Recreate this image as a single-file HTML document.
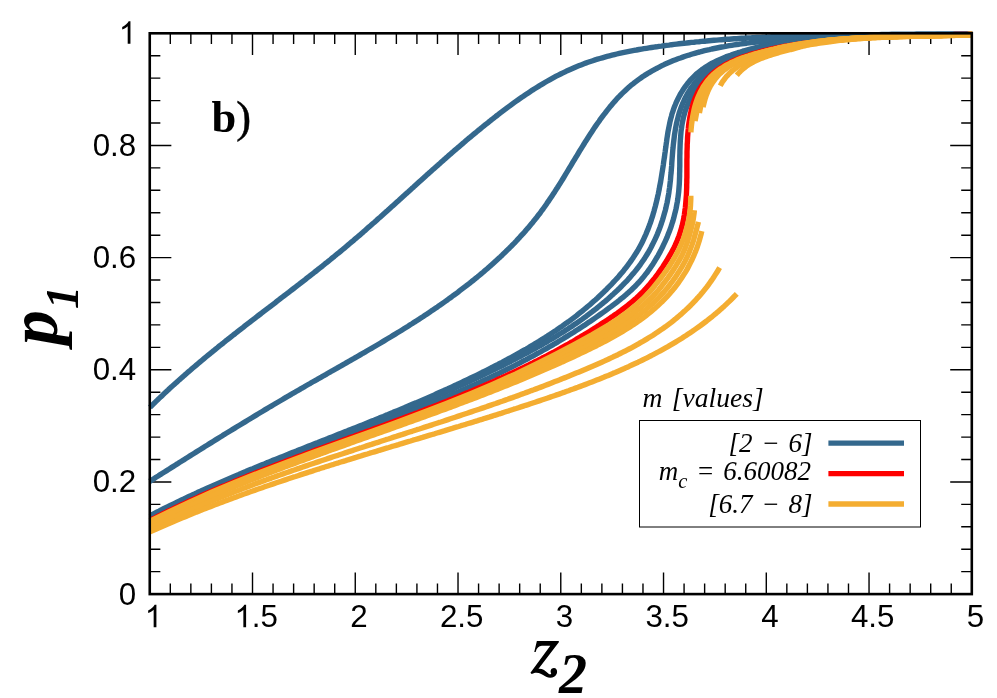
<!DOCTYPE html>
<html><head><meta charset="utf-8"><title>chart</title>
<style>
html,body{margin:0;padding:0;background:#fff;}
svg{display:block;will-change:transform;}
.tl text{font-family:"Liberation Sans",sans-serif;font-size:31.3px;fill:#000;}
.ser{font-family:"Liberation Serif",serif;fill:#000;}
</style></head><body>
<svg width="997" height="698" viewBox="0 0 997 698">
<rect width="997" height="698" fill="#fff"/>
<path d="M149.75,594.1v-21.6 M149.75,33.3v21.6 M170.30,594.1v-10.6 M170.30,33.3v10.6 M190.85,594.1v-10.6 M190.85,33.3v10.6 M211.40,594.1v-10.6 M211.40,33.3v10.6 M231.95,594.1v-10.6 M231.95,33.3v10.6 M252.51,594.1v-21.6 M252.51,33.3v21.6 M273.06,594.1v-10.6 M273.06,33.3v10.6 M293.61,594.1v-10.6 M293.61,33.3v10.6 M314.16,594.1v-10.6 M314.16,33.3v10.6 M334.71,594.1v-10.6 M334.71,33.3v10.6 M355.26,594.1v-21.6 M355.26,33.3v21.6 M375.81,594.1v-10.6 M375.81,33.3v10.6 M396.37,594.1v-10.6 M396.37,33.3v10.6 M416.92,594.1v-10.6 M416.92,33.3v10.6 M437.47,594.1v-10.6 M437.47,33.3v10.6 M458.02,594.1v-21.6 M458.02,33.3v21.6 M478.57,594.1v-10.6 M478.57,33.3v10.6 M499.12,594.1v-10.6 M499.12,33.3v10.6 M519.67,594.1v-10.6 M519.67,33.3v10.6 M540.22,594.1v-10.6 M540.22,33.3v10.6 M560.77,594.1v-21.6 M560.77,33.3v21.6 M581.33,594.1v-10.6 M581.33,33.3v10.6 M601.88,594.1v-10.6 M601.88,33.3v10.6 M622.43,594.1v-10.6 M622.43,33.3v10.6 M642.98,594.1v-10.6 M642.98,33.3v10.6 M663.53,594.1v-21.6 M663.53,33.3v21.6 M684.08,594.1v-10.6 M684.08,33.3v10.6 M704.63,594.1v-10.6 M704.63,33.3v10.6 M725.19,594.1v-10.6 M725.19,33.3v10.6 M745.74,594.1v-10.6 M745.74,33.3v10.6 M766.29,594.1v-21.6 M766.29,33.3v21.6 M786.84,594.1v-10.6 M786.84,33.3v10.6 M807.39,594.1v-10.6 M807.39,33.3v10.6 M827.94,594.1v-10.6 M827.94,33.3v10.6 M848.49,594.1v-10.6 M848.49,33.3v10.6 M869.04,594.1v-21.6 M869.04,33.3v21.6 M889.59,594.1v-10.6 M889.59,33.3v10.6 M910.15,594.1v-10.6 M910.15,33.3v10.6 M930.70,594.1v-10.6 M930.70,33.3v10.6 M951.25,594.1v-10.6 M951.25,33.3v10.6 M971.80,594.1v-21.6 M971.80,33.3v21.6 M149.75,594.10h21.6 M971.8,594.10h-21.6 M149.75,571.67h10.6 M971.8,571.67h-10.6 M149.75,549.24h10.6 M971.8,549.24h-10.6 M149.75,526.80h10.6 M971.8,526.80h-10.6 M149.75,504.37h10.6 M971.8,504.37h-10.6 M149.75,481.94h21.6 M971.8,481.94h-21.6 M149.75,459.51h10.6 M971.8,459.51h-10.6 M149.75,437.08h10.6 M971.8,437.08h-10.6 M149.75,414.64h10.6 M971.8,414.64h-10.6 M149.75,392.21h10.6 M971.8,392.21h-10.6 M149.75,369.78h21.6 M971.8,369.78h-21.6 M149.75,347.35h10.6 M971.8,347.35h-10.6 M149.75,324.92h10.6 M971.8,324.92h-10.6 M149.75,302.48h10.6 M971.8,302.48h-10.6 M149.75,280.05h10.6 M971.8,280.05h-10.6 M149.75,257.62h21.6 M971.8,257.62h-21.6 M149.75,235.19h10.6 M971.8,235.19h-10.6 M149.75,212.76h10.6 M971.8,212.76h-10.6 M149.75,190.32h10.6 M971.8,190.32h-10.6 M149.75,167.89h10.6 M971.8,167.89h-10.6 M149.75,145.46h21.6 M971.8,145.46h-21.6 M149.75,123.03h10.6 M971.8,123.03h-10.6 M149.75,100.60h10.6 M971.8,100.60h-10.6 M149.75,78.16h10.6 M971.8,78.16h-10.6 M149.75,55.73h10.6 M971.8,55.73h-10.6 M149.75,33.30h21.6 M971.8,33.30h-21.6" stroke="#000" stroke-width="1.4" fill="none"/>
<clipPath id="cp"><rect x="147.25" y="29" width="824.9499999999999" height="565.1"/></clipPath>
<g clip-path="url(#cp)" fill="none" stroke-width="5.4" stroke-linecap="butt" stroke-linejoin="round">
<path d="M149.9,407.4 L151.7,405.7 L153.5,403.9 L155.3,402.1 L157.1,400.4 L158.9,398.6 L160.7,396.9 L162.6,395.2 L164.4,393.4 L166.2,391.7 L168.1,390.0 L169.9,388.3 L171.8,386.6 L173.6,384.9 L175.5,383.2 L177.4,381.6 L179.2,379.9 L181.1,378.2 L183.0,376.6 L184.9,374.9 L186.8,373.3 L188.7,371.6 L190.6,370.0 L192.5,368.3 L194.4,366.7 L196.3,365.1 L198.2,363.5 L200.1,361.9 L202.1,360.2 L204.0,358.6 L205.9,357.0 L207.9,355.4 L209.8,353.9 L211.7,352.3 L213.7,350.7 L215.6,349.1 L217.6,347.5 L219.5,345.9 L221.5,344.4 L223.5,342.8 L225.4,341.2 L227.4,339.7 L229.4,338.1 L231.3,336.6 L233.3,335.0 L235.3,333.5 L237.3,331.9 L239.2,330.4 L241.2,328.8 L243.2,327.3 L245.2,325.7 L247.2,324.2 L249.2,322.7 L251.1,321.1 L253.1,319.6 L255.1,318.1 L257.1,316.5 L259.1,315.0 L261.1,313.5 L263.1,311.9 L265.1,310.4 L267.1,308.9 L269.1,307.4 L271.1,305.8 L273.1,304.3 L275.1,302.8 L277.1,301.2 L279.1,299.7 L281.0,298.2 L283.0,296.7 L285.0,295.1 L287.0,293.6 L289.0,292.1 L291.0,290.5 L293.0,289.0 L295.0,287.5 L297.0,285.9 L299.0,284.4 L300.9,282.9 L302.9,281.3 L304.9,279.8 L306.9,278.2 L308.9,276.7 L310.8,275.1 L312.8,273.6 L314.8,272.0 L316.8,270.5 L318.7,268.9 L320.7,267.4 L322.7,265.8 L324.6,264.2 L326.6,262.7 L328.5,261.1 L330.5,259.5 L332.4,257.9 L334.4,256.3 L336.3,254.7 L338.3,253.2 L340.2,251.6 L342.1,250.0 L344.1,248.4 L346.0,246.7 L347.9,245.1 L349.8,243.5 L351.7,241.9 L353.7,240.3 L355.6,238.6 L357.5,237.0 L359.4,235.4 L361.3,233.7 L363.2,232.1 L365.1,230.4 L366.9,228.8 L368.8,227.1 L370.7,225.5 L372.6,223.8 L374.5,222.2 L376.4,220.5 L378.2,218.8 L380.1,217.2 L382.0,215.5 L383.9,213.8 L385.7,212.1 L387.6,210.5 L389.5,208.8 L391.3,207.1 L393.2,205.4 L395.1,203.7 L396.9,202.1 L398.8,200.4 L400.6,198.7 L402.5,197.0 L404.4,195.3 L406.2,193.6 L408.1,192.0 L410.0,190.3 L411.8,188.6 L413.7,186.9 L415.5,185.2 L417.4,183.5 L419.3,181.8 L421.1,180.2 L423.0,178.5 L424.9,176.8 L426.7,175.1 L428.6,173.4 L430.5,171.8 L432.3,170.1 L434.2,168.4 L436.1,166.7 L438.0,165.1 L439.9,163.4 L441.7,161.7 L443.6,160.1 L445.5,158.4 L447.4,156.8 L449.3,155.1 L451.2,153.4 L453.1,151.8 L455.0,150.1 L456.9,148.5 L458.8,146.9 L460.7,145.2 L462.6,143.6 L464.5,142.0 L466.4,140.3 L468.3,138.7 L470.3,137.1 L472.2,135.5 L474.1,133.9 L476.1,132.3 L478.0,130.7 L480.0,129.1 L481.9,127.5 L483.9,125.9 L485.8,124.3 L487.8,122.8 L489.8,121.2 L491.7,119.6 L493.7,118.1 L495.7,116.5 L497.7,115.0 L499.7,113.4 L501.7,111.9 L503.7,110.4 L505.7,108.9 L507.7,107.4 L509.8,105.9 L511.8,104.4 L513.8,102.9 L515.9,101.4 L517.9,100.0 L520.0,98.5 L522.1,97.1 L524.1,95.7 L526.2,94.3 L528.3,92.9 L530.4,91.5 L532.5,90.1 L534.6,88.8 L536.7,87.5 L538.9,86.1 L541.0,84.8 L543.1,83.6 L545.3,82.3 L547.5,81.0 L549.6,79.8 L551.8,78.6 L554.0,77.4 L556.2,76.2 L558.4,75.1 L560.6,74.0 L562.9,72.9 L565.1,71.8 L567.3,70.7 L569.6,69.7 L571.9,68.7 L574.1,67.7 L576.4,66.7 L578.7,65.8 L581.0,64.9 L583.4,64.0 L585.7,63.1 L588.0,62.3 L590.4,61.5 L592.8,60.7 L595.1,59.9 L597.5,59.2 L599.9,58.5 L602.3,57.8 L604.7,57.1 L607.1,56.4 L609.5,55.8 L612.0,55.2 L614.4,54.6 L616.8,54.0 L619.3,53.4 L621.7,52.9 L624.2,52.4 L626.6,51.9 L629.1,51.4 L631.6,50.9 L634.1,50.4 L636.5,50.0 L639.0,49.5 L641.5,49.1 L644.0,48.7 L646.5,48.3 L649.0,47.9 L651.5,47.5 L654.0,47.1 L656.5,46.8 L659.0,46.4 L661.5,46.1 L664.0,45.7 L666.5,45.4 L669.0,45.1 L671.5,44.7 L674.0,44.4 L676.5,44.1 L679.0,43.8 L681.5,43.5 L684.0,43.2 L686.5,43.0 L689.0,42.7 L691.5,42.4 L694.0,42.2 L696.5,41.9 L699.0,41.7 L701.5,41.4 L704.0,41.2 L706.5,41.0 L709.0,40.7 L711.5,40.5 L714.0,40.3 L716.6,40.1 L719.1,39.9 L721.6,39.7 L724.1,39.5 L726.6,39.3 L729.1,39.2 L731.6,39.0 L734.1,38.8 L736.6,38.7 L739.1,38.5 L741.6,38.3 L744.1,38.2 L746.6,38.0 L749.1,37.9 L751.6,37.8 L754.2,37.6 L756.7,37.5 L759.2,37.4 L761.7,37.3 L764.2,37.1 L766.7,37.0 L769.2,36.9 L771.7,36.8 L774.2,36.7 L776.7,36.6 L779.2,36.5 L781.7,36.4 L784.3,36.4 L786.8,36.3 L789.3,36.2 L791.8,36.1 L794.3,36.0 L796.8,36.0 L799.3,35.9 L801.8,35.8 L804.3,35.8 L806.8,35.7 L809.3,35.7 L811.9,35.6 L814.4,35.6 L816.9,35.5 L819.4,35.5 L821.9,35.4 L824.4,35.4 L826.9,35.3 L829.4,35.3 L831.9,35.3 L834.4,35.2 L837.0,35.2 L839.5,35.2 L842.0,35.2 L844.5,35.1 L847.0,35.1 L849.5,35.1 L852.0,35.1 L854.5,35.0 L857.0,35.0 L859.5,35.0 L862.1,35.0 L864.6,35.0 L867.1,34.9 L869.6,34.9 L872.1,34.9 L874.6,34.9 L877.1,34.9 L879.6,34.9 L882.1,34.9 L884.6,34.9 L887.2,34.8 L889.7,34.8 L892.2,34.8 L894.7,34.8 L897.2,34.8 L899.7,34.8 L902.2,34.8 L904.7,34.8 L907.2,34.8 L909.7,34.7 L912.3,34.7 L914.8,34.7 L917.3,34.7 L919.8,34.7 L922.3,34.7 L924.8,34.6 L927.3,34.6 L929.8,34.6 L932.3,34.6 L934.8,34.6 L937.3,34.5 L939.9,34.5 L942.4,34.5 L944.9,34.5 L947.4,34.4 L949.9,34.4 L952.4,34.4 L954.9,34.3 L957.4,34.3 L959.9,34.3 L962.4,34.2 L964.9,34.2 L967.5,34.1 L970.0,34.1 L972.5,34.0 L975.0,34.0" stroke="#34688d"/>
<path d="M149.7,481.4 L151.8,480.1 L153.9,478.7 L156.0,477.3 L158.2,476.0 L160.3,474.6 L162.4,473.3 L164.5,472.0 L166.7,470.6 L168.8,469.3 L170.9,467.9 L173.0,466.6 L175.2,465.2 L177.3,463.9 L179.4,462.5 L181.5,461.2 L183.7,459.9 L185.8,458.5 L187.9,457.2 L190.0,455.9 L192.2,454.5 L194.3,453.2 L196.4,451.9 L198.6,450.5 L200.7,449.2 L202.8,447.9 L204.9,446.5 L207.1,445.2 L209.2,443.9 L211.3,442.6 L213.5,441.2 L215.6,439.9 L217.7,438.6 L219.9,437.3 L222.0,436.0 L224.1,434.6 L226.3,433.3 L228.4,432.0 L230.5,430.7 L232.7,429.4 L234.8,428.1 L236.9,426.8 L239.1,425.5 L241.2,424.2 L243.4,422.9 L245.5,421.6 L247.7,420.3 L249.8,419.0 L251.9,417.7 L254.1,416.4 L256.2,415.1 L258.4,413.8 L260.5,412.5 L262.7,411.2 L264.8,409.9 L267.0,408.6 L269.2,407.3 L271.3,406.1 L273.5,404.8 L275.6,403.5 L277.8,402.2 L279.9,401.0 L282.1,399.7 L284.3,398.4 L286.4,397.1 L288.6,395.9 L290.8,394.6 L292.9,393.3 L295.1,392.1 L297.3,390.8 L299.5,389.6 L301.6,388.3 L303.8,387.1 L306.0,385.8 L308.2,384.5 L310.4,383.3 L312.5,382.0 L314.7,380.8 L316.9,379.6 L319.1,378.3 L321.3,377.1 L323.5,375.8 L325.7,374.6 L327.9,373.3 L330.0,372.1 L332.2,370.8 L334.4,369.6 L336.6,368.4 L338.8,367.1 L341.0,365.9 L343.2,364.6 L345.4,363.4 L347.5,362.1 L349.7,360.9 L351.9,359.6 L354.1,358.4 L356.3,357.1 L358.5,355.9 L360.6,354.6 L362.8,353.3 L365.0,352.1 L367.2,350.8 L369.4,349.5 L371.5,348.3 L373.7,347.0 L375.9,345.7 L378.0,344.5 L380.2,343.2 L382.4,341.9 L384.5,340.6 L386.7,339.3 L388.8,338.0 L391.0,336.7 L393.1,335.4 L395.3,334.1 L397.4,332.8 L399.6,331.5 L401.7,330.2 L403.9,328.8 L406.0,327.5 L408.1,326.2 L410.2,324.8 L412.4,323.5 L414.5,322.1 L416.6,320.8 L418.7,319.4 L420.8,318.0 L422.9,316.7 L425.0,315.3 L427.1,313.9 L429.2,312.5 L431.2,311.1 L433.3,309.7 L435.4,308.3 L437.5,306.9 L439.5,305.4 L441.6,304.0 L443.6,302.6 L445.7,301.1 L447.7,299.7 L449.7,298.2 L451.8,296.7 L453.8,295.2 L455.8,293.8 L457.8,292.3 L459.8,290.7 L461.8,289.2 L463.8,287.7 L465.8,286.2 L467.8,284.6 L469.8,283.1 L471.7,281.5 L473.7,280.0 L475.6,278.4 L477.6,276.8 L479.5,275.2 L481.4,273.6 L483.4,272.0 L485.3,270.3 L487.2,268.7 L489.1,267.0 L491.0,265.4 L492.8,263.7 L494.7,262.0 L496.6,260.3 L498.4,258.6 L500.3,256.9 L502.1,255.2 L503.9,253.4 L505.7,251.7 L507.5,249.9 L509.3,248.2 L511.1,246.4 L512.8,244.6 L514.6,242.8 L516.3,241.0 L518.0,239.1 L519.7,237.3 L521.4,235.4 L523.1,233.6 L524.8,231.7 L526.4,229.8 L528.1,227.9 L529.7,226.0 L531.3,224.1 L532.9,222.2 L534.4,220.2 L536.0,218.3 L537.5,216.3 L539.1,214.3 L540.6,212.3 L542.0,210.3 L543.5,208.3 L545.0,206.2 L546.4,204.2 L547.8,202.1 L549.2,200.1 L550.6,198.0 L552.0,195.9 L553.4,193.8 L554.8,191.7 L556.1,189.6 L557.5,187.5 L558.8,185.4 L560.1,183.3 L561.5,181.1 L562.8,179.0 L564.1,176.8 L565.4,174.7 L566.7,172.5 L568.0,170.4 L569.3,168.2 L570.6,166.1 L571.9,163.9 L573.2,161.7 L574.5,159.6 L575.8,157.4 L577.1,155.3 L578.4,153.1 L579.7,150.9 L581.0,148.8 L582.4,146.6 L583.7,144.5 L585.0,142.3 L586.4,140.2 L587.8,138.1 L589.1,135.9 L590.5,133.8 L591.9,131.7 L593.3,129.6 L594.7,127.4 L596.1,125.4 L597.6,123.3 L599.1,121.2 L600.5,119.1 L602.0,117.1 L603.5,115.1 L605.1,113.1 L606.6,111.1 L608.2,109.1 L609.8,107.1 L611.4,105.2 L613.0,103.3 L614.7,101.4 L616.3,99.5 L618.0,97.7 L619.8,95.9 L621.5,94.1 L623.3,92.4 L625.1,90.7 L626.9,89.0 L628.8,87.3 L630.6,85.7 L632.6,84.2 L634.5,82.6 L636.5,81.1 L638.5,79.6 L640.5,78.2 L642.5,76.8 L644.6,75.4 L646.7,74.1 L648.8,72.8 L650.9,71.6 L653.1,70.3 L655.3,69.1 L657.5,68.0 L659.7,66.8 L661.9,65.7 L664.2,64.6 L666.5,63.6 L668.8,62.6 L671.1,61.6 L673.4,60.6 L675.7,59.7 L678.0,58.8 L680.4,58.0 L682.8,57.1 L685.1,56.3 L687.5,55.5 L689.9,54.8 L692.3,54.0 L694.7,53.3 L697.1,52.6 L699.6,52.0 L702.0,51.3 L704.4,50.7 L706.9,50.1 L709.4,49.6 L711.8,49.0 L714.3,48.5 L716.8,48.0 L719.2,47.5 L721.7,47.0 L724.2,46.6 L726.7,46.1 L729.2,45.7 L731.7,45.3 L734.2,44.9 L736.7,44.5 L739.2,44.2 L741.7,43.8 L744.3,43.5 L746.8,43.2 L749.3,42.8 L751.8,42.5 L754.3,42.3 L756.9,42.0 L759.4,41.7 L761.9,41.4 L764.4,41.2 L766.9,40.9 L769.4,40.7 L772.0,40.4 L774.5,40.2 L777.0,40.0 L779.5,39.8 L782.0,39.5 L784.5,39.3 L787.0,39.1 L789.5,38.9 L792.0,38.7 L794.5,38.5 L797.0,38.3 L799.5,38.2 L802.0,38.0 L804.5,37.8 L807.0,37.6 L809.5,37.5 L812.0,37.3 L814.5,37.2 L816.9,37.0 L819.4,36.9 L821.9,36.7 L824.4,36.6 L826.9,36.5 L829.4,36.3 L831.9,36.2 L834.4,36.1 L836.8,36.0 L839.3,35.9 L841.8,35.8 L844.3,35.7 L846.8,35.6 L849.3,35.5 L851.8,35.4 L854.2,35.3 L856.7,35.2 L859.2,35.1 L861.7,35.0 L864.2,35.0 L866.7,34.9 L869.2,34.8 L871.6,34.7 L874.1,34.7 L876.6,34.6 L879.1,34.6 L881.6,34.5 L884.1,34.5 L886.6,34.4 L889.1,34.4 L891.6,34.3 L894.1,34.3 L896.6,34.3 L899.1,34.2 L901.6,34.2 L904.1,34.2 L906.6,34.1 L909.1,34.1 L911.6,34.1 L914.1,34.1 L916.6,34.0 L919.1,34.0 L921.6,34.0 L924.2,34.0 L926.7,34.0 L929.2,34.0 L931.7,34.0 L934.2,34.0 L936.8,34.0 L939.3,34.0 L941.8,34.0 L944.4,34.0 L946.9,34.0 L949.4,34.0 L952.0,34.0 L954.5,34.0 L957.1,34.0 L959.6,34.0 L962.2,34.0 L964.7,34.0 L967.3,34.1 L969.9,34.1 L972.4,34.1 L975.0,34.1" stroke="#34688d"/>
<path d="M150.0,515.6 L152.3,514.5 L154.5,513.3 L156.7,512.2 L159.0,511.1 L161.2,509.9 L163.5,508.8 L165.7,507.7 L167.9,506.6 L170.2,505.5 L172.5,504.4 L174.7,503.3 L177.0,502.2 L179.2,501.1 L181.5,500.0 L183.8,499.0 L186.0,497.9 L188.3,496.8 L190.6,495.8 L192.8,494.7 L195.1,493.7 L197.4,492.6 L199.7,491.6 L202.0,490.5 L204.3,489.5 L206.5,488.5 L208.8,487.4 L211.1,486.4 L213.4,485.4 L215.7,484.4 L218.0,483.4 L220.3,482.4 L222.6,481.4 L224.9,480.4 L227.2,479.4 L229.5,478.4 L231.8,477.4 L234.1,476.4 L236.5,475.4 L238.8,474.5 L241.1,473.5 L243.4,472.5 L245.7,471.6 L248.0,470.6 L250.4,469.6 L252.7,468.7 L255.0,467.7 L257.3,466.7 L259.6,465.8 L262.0,464.8 L264.3,463.9 L266.6,462.9 L269.0,462.0 L271.3,461.1 L273.6,460.1 L275.9,459.2 L278.3,458.2 L280.6,457.3 L282.9,456.4 L285.3,455.4 L287.6,454.5 L289.9,453.6 L292.3,452.6 L294.6,451.7 L297.0,450.8 L299.3,449.8 L301.6,448.9 L304.0,448.0 L306.3,447.1 L308.7,446.1 L311.0,445.2 L313.3,444.3 L315.7,443.4 L318.0,442.5 L320.3,441.5 L322.7,440.6 L325.0,439.7 L327.4,438.8 L329.7,437.8 L332.0,436.9 L334.4,436.0 L336.7,435.1 L339.1,434.1 L341.4,433.2 L343.7,432.3 L346.1,431.4 L348.4,430.4 L350.8,429.5 L353.1,428.6 L355.4,427.7 L357.8,426.7 L360.1,425.8 L362.4,424.9 L364.8,423.9 L367.1,423.0 L369.4,422.1 L371.8,421.1 L374.1,420.2 L376.4,419.2 L378.8,418.3 L381.1,417.3 L383.4,416.4 L385.7,415.4 L388.1,414.5 L390.4,413.5 L392.7,412.6 L395.0,411.6 L397.3,410.7 L399.7,409.7 L402.0,408.7 L404.3,407.8 L406.6,406.8 L408.9,405.8 L411.2,404.8 L413.5,403.8 L415.9,402.9 L418.2,401.9 L420.5,400.9 L422.8,399.9 L425.1,398.9 L427.4,397.9 L429.7,396.9 L432.0,395.9 L434.3,394.9 L436.6,393.8 L438.8,392.8 L441.1,391.8 L443.4,390.8 L445.7,389.7 L448.0,388.7 L450.3,387.6 L452.5,386.6 L454.8,385.5 L457.1,384.5 L459.4,383.4 L461.6,382.4 L463.9,381.3 L466.2,380.2 L468.4,379.1 L470.7,378.0 L472.9,377.0 L475.2,375.9 L477.4,374.8 L479.7,373.7 L481.9,372.5 L484.2,371.4 L486.4,370.3 L488.7,369.2 L490.9,368.0 L493.1,366.9 L495.4,365.7 L497.6,364.6 L499.8,363.4 L502.0,362.3 L504.2,361.1 L506.5,359.9 L508.7,358.7 L510.9,357.5 L513.1,356.3 L515.3,355.1 L517.5,353.9 L519.7,352.7 L521.8,351.4 L524.0,350.2 L526.2,349.0 L528.4,347.7 L530.5,346.4 L532.7,345.2 L534.8,343.9 L537.0,342.6 L539.1,341.3 L541.2,339.9 L543.4,338.6 L545.5,337.3 L547.6,335.9 L549.7,334.6 L551.8,333.2 L553.9,331.8 L556.0,330.4 L558.0,329.0 L560.1,327.6 L562.2,326.2 L564.2,324.7 L566.2,323.2 L568.3,321.8 L570.3,320.3 L572.3,318.8 L574.3,317.3 L576.3,315.8 L578.3,314.2 L580.2,312.7 L582.2,311.1 L584.1,309.5 L586.1,307.9 L588.0,306.3 L589.9,304.7 L591.8,303.0 L593.7,301.3 L595.6,299.7 L597.5,298.0 L599.3,296.3 L601.2,294.5 L603.0,292.8 L604.8,291.0 L606.7,289.2 L608.4,287.4 L610.2,285.6 L612.0,283.8 L613.7,281.9 L615.5,280.0 L617.2,278.2 L618.9,276.3 L620.5,274.3 L622.1,272.4 L623.8,270.4 L625.3,268.4 L626.9,266.5 L628.4,264.4 L629.9,262.4 L631.3,260.4 L632.8,258.3 L634.1,256.2 L635.5,254.1 L636.8,252.0 L638.1,249.9 L639.3,247.7 L640.5,245.5 L641.6,243.4 L642.7,241.2 L643.8,238.9 L644.8,236.7 L645.8,234.5 L646.7,232.2 L647.7,229.9 L648.6,227.6 L649.4,225.3 L650.3,223.0 L651.1,220.7 L651.8,218.3 L652.6,216.0 L653.3,213.6 L654.0,211.2 L654.6,208.8 L655.3,206.4 L655.9,204.0 L656.5,201.6 L657.1,199.2 L657.6,196.7 L658.2,194.3 L658.7,191.8 L659.2,189.4 L659.6,186.9 L660.1,184.4 L660.6,181.9 L661.0,179.4 L661.4,176.9 L661.8,174.4 L662.2,171.9 L662.6,169.4 L663.0,166.9 L663.4,164.3 L663.7,161.8 L664.1,159.2 L664.5,156.7 L664.8,154.2 L665.2,151.6 L665.5,149.1 L665.9,146.5 L666.2,144.0 L666.6,141.4 L666.9,138.9 L667.3,136.3 L667.7,133.8 L668.1,131.2 L668.6,128.7 L669.1,126.2 L669.6,123.7 L670.1,121.3 L670.7,118.8 L671.4,116.4 L672.0,113.9 L672.8,111.6 L673.6,109.2 L674.4,106.8 L675.4,104.5 L676.3,102.2 L677.4,100.0 L678.5,97.8 L679.6,95.6 L680.8,93.4 L682.1,91.3 L683.4,89.3 L684.8,87.2 L686.2,85.3 L687.7,83.3 L689.3,81.4 L690.9,79.6 L692.6,77.8 L694.3,76.1 L696.0,74.4 L697.9,72.8 L699.8,71.3 L701.7,69.8 L703.7,68.4 L705.7,67.0 L707.8,65.7 L710.0,64.4 L712.1,63.2 L714.3,62.1 L716.6,61.0 L718.9,59.9 L721.2,58.9 L723.5,57.9 L725.8,56.9 L728.2,56.0 L730.6,55.2 L733.0,54.3 L735.4,53.5 L737.8,52.7 L740.3,52.0 L742.7,51.2 L745.1,50.5 L747.6,49.8 L750.0,49.2 L752.5,48.5 L754.9,47.9 L757.4,47.3 L759.8,46.7 L762.3,46.1 L764.7,45.6 L767.2,45.1 L769.7,44.6 L772.1,44.1 L774.6,43.6 L777.1,43.1 L779.5,42.7 L782.0,42.3 L784.5,41.9 L787.0,41.5 L789.5,41.2 L791.9,40.8 L794.4,40.5 L796.9,40.2 L799.4,39.8 L801.9,39.6 L804.4,39.3 L806.9,39.0 L809.4,38.8 L811.9,38.5 L814.4,38.3 L816.9,38.1 L819.4,37.9 L821.9,37.7 L824.4,37.5 L826.9,37.4 L829.4,37.2 L831.9,37.1 L834.4,36.9 L836.9,36.8 L839.4,36.7 L841.9,36.6 L844.5,36.5 L847.0,36.4 L849.5,36.3 L852.0,36.3 L854.5,36.2 L857.0,36.1 L859.6,36.1 L862.1,36.0 L864.6,36.0 L867.1,35.9 L869.6,35.9 L872.1,35.9 L874.7,35.8 L877.2,35.8 L879.7,35.8 L882.2,35.8 L884.7,35.8 L887.3,35.7 L889.8,35.7 L892.3,35.7 L894.8,35.7 L897.3,35.7 L899.8,35.7 L902.4,35.7 L904.9,35.7 L907.4,35.7 L909.9,35.7 L912.4,35.7 L914.9,35.6 L917.5,35.6 L920.0,35.6 L922.5,35.6 L925.0,35.6 L927.5,35.5 L930.0,35.5 L932.5,35.5 L935.0,35.4 L937.5,35.4 L940.0,35.3 L942.5,35.3 L945.0,35.2 L947.5,35.1 L950.0,35.1 L952.5,35.0 L955.0,34.9 L957.5,34.8 L960.0,34.7 L962.5,34.6 L965.0,34.5 L967.5,34.3 L970.0,34.2 L972.5,34.0 L974.9,33.9" stroke="#34688d"/>
<path d="M149.9,517.0 L152.2,515.9 L154.4,514.8 L156.7,513.7 L159.0,512.6 L161.2,511.6 L163.5,510.5 L165.8,509.4 L168.0,508.3 L170.3,507.3 L172.6,506.2 L174.9,505.2 L177.1,504.1 L179.4,503.1 L181.7,502.0 L184.0,501.0 L186.3,499.9 L188.6,498.9 L190.8,497.9 L193.1,496.8 L195.4,495.8 L197.7,494.8 L200.0,493.8 L202.3,492.8 L204.6,491.8 L206.9,490.8 L209.2,489.7 L211.5,488.7 L213.8,487.7 L216.1,486.8 L218.4,485.8 L220.7,484.8 L223.0,483.8 L225.3,482.8 L227.6,481.8 L229.9,480.8 L232.2,479.9 L234.5,478.9 L236.8,477.9 L239.1,476.9 L241.5,476.0 L243.8,475.0 L246.1,474.0 L248.4,473.1 L250.7,472.1 L253.0,471.2 L255.3,470.2 L257.7,469.3 L260.0,468.3 L262.3,467.4 L264.6,466.4 L266.9,465.5 L269.2,464.5 L271.6,463.6 L273.9,462.6 L276.2,461.7 L278.5,460.7 L280.9,459.8 L283.2,458.9 L285.5,457.9 L287.8,457.0 L290.1,456.0 L292.5,455.1 L294.8,454.2 L297.1,453.2 L299.4,452.3 L301.8,451.4 L304.1,450.4 L306.4,449.5 L308.7,448.6 L311.1,447.7 L313.4,446.7 L315.7,445.8 L318.0,444.9 L320.4,443.9 L322.7,443.0 L325.0,442.1 L327.3,441.1 L329.7,440.2 L332.0,439.3 L334.3,438.4 L336.6,437.4 L339.0,436.5 L341.3,435.6 L343.6,434.6 L345.9,433.7 L348.3,432.8 L350.6,431.8 L352.9,430.9 L355.2,430.0 L357.6,429.0 L359.9,428.1 L362.2,427.2 L364.5,426.2 L366.8,425.3 L369.2,424.3 L371.5,423.4 L373.8,422.5 L376.1,421.5 L378.4,420.6 L380.8,419.6 L383.1,418.7 L385.4,417.7 L387.7,416.8 L390.0,415.8 L392.3,414.8 L394.6,413.9 L397.0,412.9 L399.3,412.0 L401.6,411.0 L403.9,410.0 L406.2,409.1 L408.5,408.1 L410.8,407.1 L413.1,406.2 L415.4,405.2 L417.7,404.2 L420.0,403.2 L422.3,402.2 L424.6,401.2 L426.9,400.3 L429.2,399.3 L431.5,398.3 L433.8,397.3 L436.1,396.3 L438.4,395.3 L440.7,394.3 L443.0,393.2 L445.3,392.2 L447.6,391.2 L449.9,390.2 L452.2,389.2 L454.5,388.1 L456.7,387.1 L459.0,386.1 L461.3,385.0 L463.6,384.0 L465.9,383.0 L468.1,381.9 L470.4,380.9 L472.7,379.8 L475.0,378.7 L477.2,377.7 L479.5,376.6 L481.8,375.5 L484.0,374.5 L486.3,373.4 L488.6,372.3 L490.8,371.2 L493.1,370.1 L495.3,369.0 L497.6,367.9 L499.8,366.8 L502.1,365.7 L504.3,364.6 L506.6,363.4 L508.8,362.3 L511.1,361.2 L513.3,360.0 L515.6,358.9 L517.8,357.7 L520.0,356.6 L522.2,355.4 L524.5,354.2 L526.7,353.1 L528.9,351.9 L531.1,350.7 L533.3,349.5 L535.5,348.3 L537.7,347.0 L539.9,345.8 L542.1,344.6 L544.3,343.3 L546.4,342.1 L548.6,340.8 L550.8,339.5 L552.9,338.3 L555.1,337.0 L557.2,335.7 L559.3,334.3 L561.5,333.0 L563.6,331.7 L565.7,330.3 L567.8,329.0 L569.9,327.6 L572.0,326.2 L574.0,324.8 L576.1,323.4 L578.2,322.0 L580.2,320.6 L582.3,319.1 L584.3,317.6 L586.3,316.2 L588.3,314.7 L590.3,313.2 L592.3,311.7 L594.3,310.1 L596.3,308.6 L598.2,307.0 L600.2,305.4 L602.1,303.8 L604.1,302.2 L606.0,300.6 L607.9,299.0 L609.8,297.3 L611.6,295.6 L613.5,293.9 L615.3,292.2 L617.2,290.5 L619.0,288.8 L620.8,287.0 L622.6,285.2 L624.3,283.4 L626.1,281.6 L627.8,279.8 L629.5,277.9 L631.1,276.0 L632.7,274.1 L634.4,272.2 L635.9,270.3 L637.5,268.3 L639.0,266.3 L640.5,264.3 L641.9,262.3 L643.3,260.3 L644.7,258.2 L646.0,256.1 L647.3,254.0 L648.6,251.9 L649.8,249.7 L651.0,247.5 L652.1,245.3 L653.2,243.1 L654.3,240.9 L655.4,238.6 L656.4,236.4 L657.4,234.1 L658.3,231.8 L659.2,229.5 L660.1,227.1 L660.9,224.8 L661.7,222.4 L662.5,220.1 L663.2,217.7 L663.9,215.3 L664.6,212.8 L665.3,210.4 L665.9,208.0 L666.4,205.5 L667.0,203.1 L667.5,200.6 L667.9,198.1 L668.4,195.6 L668.8,193.1 L669.1,190.6 L669.5,188.1 L669.8,185.6 L670.1,183.0 L670.4,180.5 L670.6,178.0 L670.8,175.4 L671.1,172.9 L671.3,170.3 L671.5,167.8 L671.7,165.2 L671.8,162.7 L672.0,160.1 L672.2,157.6 L672.4,155.0 L672.6,152.5 L672.8,149.9 L673.1,147.4 L673.3,144.9 L673.6,142.4 L673.9,139.9 L674.2,137.4 L674.5,134.9 L674.9,132.4 L675.3,129.9 L675.7,127.5 L676.2,125.0 L676.7,122.6 L677.3,120.2 L677.9,117.8 L678.5,115.4 L679.2,113.0 L680.0,110.7 L680.8,108.3 L681.7,106.0 L682.6,103.7 L683.6,101.5 L684.6,99.2 L685.7,97.0 L686.9,94.8 L688.1,92.7 L689.4,90.6 L690.7,88.5 L692.1,86.5 L693.6,84.5 L695.1,82.6 L696.7,80.7 L698.3,78.9 L699.9,77.1 L701.7,75.4 L703.5,73.7 L705.3,72.1 L707.2,70.5 L709.2,69.0 L711.2,67.6 L713.2,66.2 L715.3,64.9 L717.4,63.6 L719.6,62.3 L721.8,61.2 L724.1,60.0 L726.3,58.9 L728.6,57.9 L731.0,56.9 L733.3,56.0 L735.7,55.0 L738.1,54.2 L740.5,53.3 L742.9,52.6 L745.3,51.8 L747.8,51.1 L750.2,50.4 L752.7,49.7 L755.1,49.1 L757.6,48.5 L760.0,48.0 L762.5,47.4 L765.0,46.9 L767.5,46.4 L770.0,46.0 L772.5,45.5 L774.9,45.1 L777.4,44.7 L779.9,44.3 L782.4,43.9 L784.9,43.6 L787.4,43.2 L789.9,42.9 L792.4,42.5 L794.9,42.2 L797.4,41.9 L799.9,41.6 L802.4,41.3 L804.9,41.0 L807.4,40.8 L809.9,40.5 L812.4,40.2 L814.9,40.0 L817.4,39.8 L819.9,39.5 L822.4,39.3 L824.9,39.1 L827.4,38.9 L829.9,38.7 L832.4,38.5 L834.9,38.3 L837.4,38.1 L839.9,37.9 L842.4,37.7 L844.9,37.6 L847.4,37.4 L849.8,37.3 L852.3,37.1 L854.8,37.0 L857.3,36.8 L859.8,36.7 L862.3,36.6 L864.8,36.5 L867.3,36.4 L869.8,36.3 L872.3,36.2 L874.8,36.1 L877.3,36.0 L879.8,35.9 L882.3,35.8 L884.8,35.7 L887.3,35.6 L889.8,35.6 L892.3,35.5 L894.8,35.4 L897.3,35.4 L899.8,35.3 L902.3,35.2 L904.8,35.2 L907.3,35.1 L909.8,35.1 L912.3,35.0 L914.8,35.0 L917.3,35.0 L919.8,34.9 L922.3,34.9 L924.8,34.8 L927.3,34.8 L929.8,34.8 L932.3,34.7 L934.8,34.7 L937.3,34.7 L939.8,34.7 L942.3,34.6 L944.9,34.6 L947.4,34.6 L949.9,34.6 L952.4,34.5 L954.9,34.5 L957.4,34.5 L960.0,34.5 L962.5,34.4 L965.0,34.4 L967.5,34.4 L970.0,34.4 L972.6,34.3 L975.1,34.3" stroke="#34688d"/>
<path d="M150.2,518.8 L152.4,517.6 L154.6,516.5 L156.8,515.4 L159.0,514.2 L161.2,513.1 L163.5,512.0 L165.7,510.9 L167.9,509.8 L170.2,508.7 L172.4,507.6 L174.6,506.5 L176.9,505.4 L179.1,504.3 L181.4,503.2 L183.6,502.2 L185.9,501.1 L188.1,500.0 L190.4,499.0 L192.7,497.9 L194.9,496.9 L197.2,495.9 L199.5,494.8 L201.8,493.8 L204.0,492.8 L206.3,491.8 L208.6,490.8 L210.9,489.8 L213.2,488.8 L215.5,487.8 L217.8,486.8 L220.1,485.8 L222.4,484.8 L224.7,483.8 L227.0,482.8 L229.3,481.8 L231.6,480.9 L233.9,479.9 L236.2,478.9 L238.5,478.0 L240.8,477.0 L243.2,476.1 L245.5,475.1 L247.8,474.2 L250.1,473.2 L252.5,472.3 L254.8,471.4 L257.1,470.4 L259.4,469.5 L261.8,468.6 L264.1,467.6 L266.4,466.7 L268.8,465.8 L271.1,464.9 L273.5,464.0 L275.8,463.1 L278.1,462.1 L280.5,461.2 L282.8,460.3 L285.2,459.4 L287.5,458.5 L289.9,457.6 L292.2,456.7 L294.6,455.8 L296.9,454.9 L299.3,454.0 L301.6,453.1 L304.0,452.2 L306.3,451.3 L308.7,450.4 L311.0,449.6 L313.4,448.7 L315.7,447.8 L318.1,446.9 L320.4,446.0 L322.8,445.1 L325.2,444.2 L327.5,443.3 L329.9,442.5 L332.2,441.6 L334.6,440.7 L336.9,439.8 L339.3,438.9 L341.7,438.0 L344.0,437.2 L346.4,436.3 L348.7,435.4 L351.1,434.5 L353.4,433.6 L355.8,432.7 L358.1,431.8 L360.5,430.9 L362.9,430.1 L365.2,429.2 L367.6,428.3 L369.9,427.4 L372.3,426.5 L374.6,425.6 L377.0,424.7 L379.3,423.8 L381.7,422.9 L384.0,422.0 L386.4,421.1 L388.7,420.2 L391.1,419.3 L393.4,418.4 L395.8,417.5 L398.1,416.6 L400.4,415.6 L402.8,414.7 L405.1,413.8 L407.5,412.9 L409.8,412.0 L412.1,411.0 L414.5,410.1 L416.8,409.2 L419.1,408.2 L421.5,407.3 L423.8,406.4 L426.1,405.4 L428.4,404.5 L430.8,403.5 L433.1,402.6 L435.4,401.6 L437.7,400.7 L440.0,399.7 L442.4,398.7 L444.7,397.7 L447.0,396.8 L449.3,395.8 L451.6,394.8 L453.9,393.8 L456.2,392.8 L458.5,391.8 L460.8,390.8 L463.1,389.8 L465.4,388.8 L467.7,387.8 L470.0,386.8 L472.2,385.8 L474.5,384.7 L476.8,383.7 L479.1,382.7 L481.3,381.6 L483.6,380.6 L485.9,379.5 L488.2,378.5 L490.4,377.4 L492.7,376.3 L494.9,375.3 L497.2,374.2 L499.4,373.1 L501.7,372.0 L503.9,370.9 L506.2,369.8 L508.4,368.7 L510.6,367.6 L512.9,366.5 L515.1,365.3 L517.3,364.2 L519.5,363.1 L521.7,361.9 L524.0,360.7 L526.2,359.6 L528.4,358.4 L530.6,357.2 L532.8,356.1 L535.0,354.9 L537.1,353.7 L539.3,352.5 L541.5,351.3 L543.7,350.0 L545.9,348.8 L548.0,347.6 L550.2,346.3 L552.4,345.1 L554.5,343.8 L556.7,342.6 L558.8,341.3 L561.0,340.0 L563.1,338.7 L565.2,337.4 L567.4,336.1 L569.5,334.8 L571.6,333.5 L573.7,332.2 L575.8,330.8 L577.9,329.5 L580.1,328.1 L582.1,326.7 L584.2,325.4 L586.3,324.0 L588.4,322.6 L590.5,321.2 L592.6,319.8 L594.6,318.4 L596.7,316.9 L598.7,315.5 L600.8,314.0 L602.8,312.6 L604.9,311.1 L606.9,309.6 L608.9,308.1 L611.0,306.6 L613.0,305.1 L615.0,303.6 L617.0,302.1 L619.0,300.5 L620.9,298.9 L622.9,297.4 L624.8,295.7 L626.7,294.1 L628.6,292.4 L630.5,290.8 L632.3,289.0 L634.1,287.3 L635.9,285.5 L637.6,283.7 L639.3,281.9 L641.0,280.0 L642.6,278.1 L644.2,276.1 L645.7,274.2 L647.3,272.2 L648.7,270.1 L650.2,268.1 L651.6,266.0 L653.0,263.9 L654.3,261.8 L655.6,259.6 L656.9,257.5 L658.2,255.3 L659.4,253.1 L660.6,250.9 L661.7,248.7 L662.8,246.5 L663.9,244.2 L665.0,241.9 L666.0,239.7 L667.0,237.4 L667.9,235.1 L668.8,232.7 L669.7,230.4 L670.6,228.1 L671.4,225.7 L672.1,223.3 L672.9,221.0 L673.6,218.6 L674.2,216.2 L674.8,213.7 L675.4,211.3 L676.0,208.9 L676.5,206.4 L676.9,204.0 L677.4,201.5 L677.8,199.0 L678.1,196.6 L678.4,194.1 L678.7,191.6 L678.9,189.0 L679.1,186.5 L679.3,184.0 L679.4,181.5 L679.5,178.9 L679.6,176.4 L679.6,173.9 L679.7,171.3 L679.7,168.8 L679.8,166.2 L679.8,163.7 L679.8,161.1 L679.8,158.6 L679.8,156.1 L679.9,153.5 L679.9,151.0 L680.0,148.4 L680.1,145.9 L680.2,143.4 L680.3,140.9 L680.5,138.4 L680.7,135.9 L680.9,133.4 L681.1,130.9 L681.5,128.4 L681.8,125.9 L682.2,123.5 L682.7,121.0 L683.2,118.6 L683.8,116.2 L684.4,113.8 L685.1,111.4 L685.9,109.0 L686.8,106.7 L687.7,104.4 L688.7,102.0 L689.8,99.8 L690.9,97.5 L692.1,95.3 L693.3,93.1 L694.6,90.9 L696.0,88.8 L697.4,86.8 L698.9,84.7 L700.5,82.8 L702.1,80.8 L703.7,79.0 L705.4,77.1 L707.1,75.4 L708.9,73.7 L710.7,72.1 L712.6,70.5 L714.5,69.0 L716.5,67.5 L718.5,66.2 L720.5,64.8 L722.6,63.6 L724.7,62.3 L726.8,61.2 L729.0,60.1 L731.2,59.0 L733.4,58.0 L735.7,57.0 L738.0,56.1 L740.3,55.2 L742.6,54.4 L745.0,53.6 L747.4,52.8 L749.8,52.1 L752.2,51.4 L754.6,50.7 L757.1,50.1 L759.6,49.5 L762.1,48.9 L764.5,48.4 L767.1,47.9 L769.6,47.4 L772.1,46.9 L774.6,46.5 L777.2,46.1 L779.7,45.7 L782.3,45.3 L784.8,44.9 L787.4,44.5 L789.9,44.2 L792.5,43.8 L795.0,43.5 L797.5,43.2 L800.1,42.9 L802.6,42.6 L805.1,42.3 L807.6,42.0 L810.2,41.7 L812.7,41.4 L815.2,41.1 L817.7,40.9 L820.2,40.6 L822.7,40.4 L825.2,40.1 L827.7,39.9 L830.2,39.7 L832.7,39.5 L835.2,39.2 L837.7,39.0 L840.2,38.8 L842.7,38.6 L845.1,38.5 L847.6,38.3 L850.1,38.1 L852.6,37.9 L855.1,37.8 L857.5,37.6 L860.0,37.4 L862.5,37.3 L865.0,37.1 L867.5,37.0 L869.9,36.9 L872.4,36.7 L874.9,36.6 L877.4,36.5 L879.8,36.4 L882.3,36.3 L884.8,36.2 L887.3,36.1 L889.7,36.0 L892.2,35.9 L894.7,35.8 L897.2,35.7 L899.7,35.6 L902.1,35.5 L904.6,35.5 L907.1,35.4 L909.6,35.3 L912.1,35.3 L914.6,35.2 L917.1,35.2 L919.6,35.1 L922.1,35.0 L924.6,35.0 L927.1,35.0 L929.6,34.9 L932.1,34.9 L934.6,34.8 L937.1,34.8 L939.6,34.8 L942.1,34.7 L944.7,34.7 L947.2,34.7 L949.7,34.7 L952.3,34.6 L954.8,34.6 L957.4,34.6 L959.9,34.6 L962.5,34.5 L965.0,34.5 L967.6,34.5 L970.1,34.5 L972.7,34.5 L975.3,34.5" stroke="#34688d"/>
<path d="M150.0,520.4 L152.2,519.2 L154.5,518.1 L156.7,516.9 L159.0,515.8 L161.2,514.6 L163.5,513.5 L165.7,512.4 L168.0,511.3 L170.3,510.2 L172.5,509.1 L174.8,508.0 L177.1,506.9 L179.3,505.8 L181.6,504.7 L183.9,503.7 L186.2,502.6 L188.5,501.5 L190.7,500.5 L193.0,499.4 L195.3,498.4 L197.6,497.4 L199.9,496.3 L202.2,495.3 L204.5,494.3 L206.8,493.3 L209.1,492.3 L211.4,491.3 L213.7,490.3 L216.0,489.3 L218.3,488.3 L220.6,487.3 L222.9,486.3 L225.2,485.4 L227.5,484.4 L229.9,483.4 L232.2,482.5 L234.5,481.5 L236.8,480.5 L239.1,479.6 L241.5,478.6 L243.8,477.7 L246.1,476.8 L248.4,475.8 L250.8,474.9 L253.1,474.0 L255.4,473.1 L257.8,472.1 L260.1,471.2 L262.4,470.3 L264.8,469.4 L267.1,468.5 L269.4,467.6 L271.8,466.7 L274.1,465.8 L276.5,464.9 L278.8,464.0 L281.1,463.1 L283.5,462.2 L285.8,461.3 L288.2,460.4 L290.5,459.5 L292.9,458.7 L295.2,457.8 L297.6,456.9 L299.9,456.0 L302.3,455.2 L304.6,454.3 L307.0,453.4 L309.3,452.5 L311.7,451.7 L314.0,450.8 L316.4,449.9 L318.7,449.1 L321.1,448.2 L323.4,447.4 L325.8,446.5 L328.2,445.6 L330.5,444.8 L332.9,443.9 L335.2,443.1 L337.6,442.2 L339.9,441.3 L342.3,440.5 L344.7,439.6 L347.0,438.8 L349.4,437.9 L351.7,437.0 L354.1,436.2 L356.4,435.3 L358.8,434.5 L361.2,433.6 L363.5,432.8 L365.9,431.9 L368.2,431.0 L370.6,430.2 L372.9,429.3 L375.3,428.4 L377.6,427.6 L380.0,426.7 L382.4,425.9 L384.7,425.0 L387.1,424.1 L389.4,423.2 L391.8,422.4 L394.1,421.5 L396.5,420.6 L398.8,419.7 L401.2,418.9 L403.5,418.0 L405.9,417.1 L408.2,416.2 L410.6,415.3 L412.9,414.4 L415.2,413.5 L417.6,412.7 L419.9,411.8 L422.3,410.9 L424.6,409.9 L427.0,409.0 L429.3,408.1 L431.6,407.2 L434.0,406.3 L436.3,405.4 L438.6,404.5 L441.0,403.5 L443.3,402.6 L445.6,401.7 L448.0,400.8 L450.3,399.8 L452.6,398.9 L454.9,397.9 L457.3,397.0 L459.6,396.0 L461.9,395.1 L464.2,394.1 L466.5,393.1 L468.9,392.2 L471.2,391.2 L473.5,390.2 L475.8,389.2 L478.1,388.2 L480.4,387.2 L482.7,386.2 L485.0,385.2 L487.3,384.2 L489.6,383.2 L491.9,382.2 L494.2,381.2 L496.5,380.1 L498.8,379.1 L501.1,378.1 L503.4,377.0 L505.7,376.0 L507.9,374.9 L510.2,373.8 L512.5,372.8 L514.8,371.7 L517.0,370.6 L519.3,369.5 L521.6,368.4 L523.8,367.3 L526.1,366.2 L528.4,365.1 L530.6,364.0 L532.9,362.9 L535.1,361.7 L537.4,360.6 L539.6,359.5 L541.8,358.3 L544.1,357.2 L546.3,356.0 L548.5,354.8 L550.7,353.6 L553.0,352.5 L555.2,351.3 L557.4,350.1 L559.6,348.9 L561.8,347.6 L564.0,346.4 L566.2,345.2 L568.4,344.0 L570.5,342.7 L572.7,341.5 L574.9,340.2 L577.0,338.9 L579.2,337.7 L581.3,336.4 L583.5,335.1 L585.6,333.8 L587.8,332.5 L589.9,331.2 L592.0,329.9 L594.1,328.5 L596.2,327.2 L598.3,325.9 L600.4,324.5 L602.5,323.1 L604.6,321.8 L606.7,320.4 L608.8,319.0 L610.8,317.6 L612.9,316.2 L614.9,314.8 L617.0,313.4 L619.0,311.9 L621.0,310.5 L623.0,309.0 L625.0,307.5 L627.0,306.0 L628.9,304.4 L630.8,302.8 L632.7,301.2 L634.6,299.6 L636.5,298.0 L638.3,296.3 L640.1,294.5 L641.9,292.8 L643.6,291.0 L645.3,289.2 L647.0,287.3 L648.7,285.4 L650.3,283.5 L651.9,281.5 L653.5,279.6 L655.1,277.6 L656.6,275.5 L658.1,273.5 L659.6,271.4 L661.0,269.3 L662.5,267.2 L663.9,265.1 L665.2,262.9 L666.6,260.8 L667.9,258.6 L669.2,256.4 L670.5,254.2 L671.7,252.0 L672.9,249.7 L674.1,247.5 L675.2,245.2 L676.2,242.9 L677.2,240.6 L678.1,238.3 L679.0,236.0 L679.8,233.7 L680.5,231.4 L681.2,229.0 L681.9,226.6 L682.5,224.3 L683.0,221.9 L683.5,219.5 L684.0,217.1 L684.4,214.6 L684.7,212.2 L685.1,209.8 L685.4,207.3 L685.6,204.9 L685.8,202.4 L686.0,199.9 L686.2,197.5 L686.4,195.0 L686.5,192.5 L686.6,190.0 L686.7,187.5 L686.7,185.0 L686.8,182.4 L686.8,179.9 L686.9,177.4 L686.9,174.9 L686.9,172.3 L686.9,169.8 L686.9,167.3 L686.9,164.7 L686.9,162.2 L686.9,159.6 L687.0,157.1 L687.0,154.5 L687.0,152.0 L687.1,149.4 L687.2,146.9 L687.2,144.3 L687.4,141.8 L687.5,139.2 L687.6,136.7 L687.8,134.1 L688.0,131.6 L688.3,129.0 L688.5,126.5 L688.8,123.9 L689.2,121.4 L689.6,118.9 L690.0,116.4 L690.5,113.9 L691.0,111.5 L691.6,109.0 L692.3,106.6 L693.0,104.2 L693.7,101.9 L694.6,99.6 L695.5,97.3 L696.5,95.0 L697.5,92.8 L698.7,90.6 L699.9,88.5 L701.2,86.4 L702.6,84.4 L704.1,82.5 L705.6,80.5 L707.3,78.7 L709.0,76.9 L710.8,75.1 L712.6,73.5 L714.5,71.9 L716.5,70.4 L718.5,68.9 L720.6,67.5 L722.7,66.2 L724.9,64.9 L727.1,63.7 L729.3,62.6 L731.6,61.5 L733.9,60.5 L736.2,59.5 L738.6,58.5 L740.9,57.6 L743.3,56.8 L745.8,56.0 L748.2,55.2 L750.6,54.4 L753.1,53.7 L755.5,53.0 L758.0,52.3 L760.4,51.6 L762.9,51.0 L765.3,50.4 L767.8,49.8 L770.2,49.2 L772.7,48.7 L775.1,48.2 L777.6,47.7 L780.1,47.2 L782.5,46.7 L785.0,46.2 L787.5,45.8 L789.9,45.4 L792.4,45.0 L794.9,44.6 L797.3,44.2 L799.8,43.9 L802.3,43.5 L804.8,43.2 L807.2,42.9 L809.7,42.6 L812.2,42.3 L814.7,42.0 L817.2,41.7 L819.6,41.5 L822.1,41.2 L824.6,41.0 L827.1,40.7 L829.6,40.5 L832.1,40.3 L834.6,40.1 L837.1,39.9 L839.6,39.7 L842.0,39.5 L844.5,39.3 L847.0,39.1 L849.5,38.9 L852.0,38.7 L854.5,38.6 L857.0,38.4 L859.6,38.2 L862.1,38.1 L864.6,37.9 L867.1,37.7 L869.6,37.6 L872.1,37.4 L874.6,37.3 L877.1,37.1 L879.6,37.0 L882.1,36.9 L884.6,36.7 L887.2,36.6 L889.7,36.5 L892.2,36.4 L894.7,36.2 L897.2,36.1 L899.7,36.0 L902.2,35.9 L904.7,35.8 L907.3,35.7 L909.8,35.6 L912.3,35.5 L914.8,35.4 L917.3,35.3 L919.8,35.3 L922.3,35.2 L924.9,35.1 L927.4,35.0 L929.9,35.0 L932.4,34.9 L934.9,34.8 L937.4,34.8 L939.9,34.7 L942.4,34.7 L945.0,34.7 L947.5,34.6 L950.0,34.6 L952.5,34.6 L955.0,34.5 L957.5,34.5 L960.0,34.5 L962.5,34.5 L965.0,34.5 L967.5,34.5 L970.0,34.5 L972.5,34.5 L975.0,34.5" stroke="#ff0000"/>
<path d="M150.0,521.2 L169.9,511.4 L190.6,501.6 L212.6,491.8 L235.9,482.0 L260.5,472.2 L286.2,462.4 L312.8,452.6 L339.9,442.8 L367.3,433.0 L394.3,423.2 L420.8,413.4 L446.3,403.5 L470.6,393.7 L493.6,383.9 L515.4,374.1 L535.9,364.3 L555.4,354.5 L574.1,344.7 L591.9,334.9 L608.6,325.0 L618.7,318.4 L627.9,311.7 L636.1,305.1 L643.3,298.5 L649.6,291.9 L655.2,285.2 L660.4,278.6 L665.3,272.0 L669.9,265.4 L674.0,258.7 L677.6,252.1 L680.7,245.5 L683.4,238.9 L685.5,232.2 L687.4,225.6 L688.8,219.0 L689.9,212.4 L690.5,205.7 L690.8,199.1 L690.8,195.8" stroke="#f4ad31"/>
<path d="M150.0,522.1 L170.4,512.3 L191.5,502.4 L213.8,492.6 L237.4,482.7 L262.2,472.9 L288.1,463.0 L314.9,453.2 L342.3,443.3 L369.8,433.5 L397.2,423.6 L424.0,413.8 L450.0,403.9 L475.0,394.0 L498.7,384.2 L521.2,374.3 L542.6,364.5 L562.8,354.6 L582.1,344.8 L600.1,334.9 L616.7,325.0 L625.6,319.1 L633.7,313.2 L641.0,307.3 L647.6,301.5 L653.5,295.6 L658.7,289.7 L663.4,283.8 L667.9,277.9 L672.0,272.0 L675.8,266.1 L679.3,260.2 L682.4,254.4 L685.0,248.5 L687.2,242.6 L689.0,236.7 L690.6,230.8 L692.1,224.9 L693.3,219.0 L694.1,213.1 L694.4,210.2" stroke="#f4ad31"/>
<path d="M150.0,523.1 L170.9,513.2 L192.4,503.3 L215.1,493.4 L239.0,483.5 L264.0,473.6 L290.1,463.7 L317.0,453.8 L344.6,443.9 L372.3,434.0 L400.0,424.1 L427.2,414.2 L453.8,404.3 L479.3,394.4 L503.8,384.5 L527.1,374.6 L549.2,364.7 L570.2,354.8 L590.1,344.9 L608.4,335.0 L624.8,325.0 L632.6,319.7 L639.8,314.4 L646.4,309.1 L652.4,303.8 L657.9,298.5 L662.8,293.2 L667.3,288.0 L671.4,282.7 L675.2,277.4 L678.7,272.1 L681.9,266.8 L684.9,261.5 L687.5,256.2 L689.7,250.9 L691.7,245.6 L693.5,240.3 L695.0,235.0 L696.4,229.7 L697.8,224.4 L698.4,221.8" stroke="#f4ad31"/>
<path d="M150.0,524.3 L152.3,523.1 L154.6,522.0 L156.9,520.9 L159.1,519.8 L161.4,518.7 L163.7,517.6 L166.0,516.5 L168.3,515.5 L170.6,514.4 L172.9,513.3 L175.2,512.3 L177.5,511.2 L179.8,510.1 L182.1,509.1 L184.4,508.1 L186.7,507.0 L189.0,506.0 L191.3,505.0 L193.6,503.9 L195.9,502.9 L198.2,501.9 L200.5,500.9 L202.8,499.9 L205.2,498.9 L207.5,497.9 L209.8,496.9 L212.1,495.9 L214.4,494.9 L216.8,493.9 L219.1,493.0 L221.4,492.0 L223.7,491.0 L226.1,490.1 L228.4,489.1 L230.7,488.2 L233.0,487.2 L235.4,486.3 L237.7,485.3 L240.0,484.4 L242.4,483.4 L244.7,482.5 L247.1,481.6 L249.4,480.6 L251.7,479.7 L254.1,478.8 L256.4,477.9 L258.8,477.0 L261.1,476.1 L263.5,475.1 L265.8,474.2 L268.1,473.3 L270.5,472.4 L272.8,471.5 L275.2,470.6 L277.5,469.8 L279.9,468.9 L282.3,468.0 L284.6,467.1 L287.0,466.2 L289.3,465.3 L291.7,464.4 L294.0,463.6 L296.4,462.7 L298.7,461.8 L301.1,461.0 L303.5,460.1 L305.8,459.2 L308.2,458.4 L310.5,457.5 L312.9,456.6 L315.3,455.8 L317.6,454.9 L320.0,454.1 L322.3,453.2 L324.7,452.4 L327.1,451.5 L329.4,450.6 L331.8,449.8 L334.2,448.9 L336.5,448.1 L338.9,447.3 L341.3,446.4 L343.6,445.6 L346.0,444.7 L348.4,443.9 L350.7,443.0 L353.1,442.2 L355.5,441.3 L357.8,440.5 L360.2,439.7 L362.6,438.8 L364.9,438.0 L367.3,437.1 L369.7,436.3 L372.0,435.5 L374.4,434.6 L376.8,433.8 L379.1,432.9 L381.5,432.1 L383.9,431.3 L386.2,430.4 L388.6,429.6 L391.0,428.7 L393.3,427.9 L395.7,427.0 L398.1,426.2 L400.4,425.4 L402.8,424.5 L405.2,423.7 L407.5,422.8 L409.9,422.0 L412.3,421.1 L414.6,420.3 L417.0,419.4 L419.4,418.6 L421.7,417.7 L424.1,416.9 L426.5,416.0 L428.8,415.1 L431.2,414.3 L433.6,413.4 L435.9,412.6 L438.3,411.7 L440.6,410.8 L443.0,410.0 L445.4,409.1 L447.7,408.2 L450.1,407.4 L452.4,406.5 L454.8,405.6 L457.2,404.7 L459.5,403.8 L461.9,403.0 L464.2,402.1 L466.6,401.2 L468.9,400.3 L471.3,399.4 L473.6,398.5 L476.0,397.6 L478.3,396.7 L480.7,395.8 L483.0,394.9 L485.4,394.0 L487.7,393.1 L490.1,392.2 L492.4,391.2 L494.8,390.3 L497.1,389.4 L499.4,388.5 L501.8,387.5 L504.1,386.6 L506.5,385.7 L508.8,384.7 L511.1,383.8 L513.5,382.8 L515.8,381.9 L518.1,380.9 L520.5,380.0 L522.8,379.0 L525.1,378.0 L527.5,377.0 L529.8,376.1 L532.1,375.1 L534.4,374.1 L536.8,373.1 L539.1,372.1 L541.4,371.1 L543.7,370.1 L546.0,369.1 L548.4,368.1 L550.7,367.1 L553.0,366.1 L555.3,365.0 L557.6,364.0 L559.9,363.0 L562.2,361.9 L564.5,360.9 L566.8,359.8 L569.1,358.8 L571.4,357.7 L573.7,356.7 L576.0,355.6 L578.3,354.5 L580.6,353.4 L582.9,352.3 L585.2,351.2 L587.5,350.1 L589.8,349.0 L592.0,347.9 L594.3,346.8 L596.6,345.7 L598.8,344.5 L601.1,343.4 L603.3,342.2 L605.6,341.0 L607.8,339.8 L610.0,338.6 L612.3,337.4 L614.5,336.2 L616.6,335.0 L618.8,333.7 L621.0,332.4 L623.1,331.1 L625.3,329.8 L627.4,328.5 L629.5,327.2 L631.6,325.8 L633.7,324.5 L635.8,323.1 L637.8,321.6 L639.8,320.2 L641.8,318.8 L643.8,317.3 L645.8,315.8 L647.8,314.2 L649.7,312.7 L651.6,311.1 L653.5,309.5 L655.3,307.9 L657.2,306.3 L659.0,304.6 L660.8,302.9 L662.6,301.2 L664.3,299.4 L666.0,297.6 L667.7,295.8 L669.4,294.0 L671.0,292.1 L672.6,290.2 L674.2,288.3 L675.7,286.3 L677.2,284.3 L678.7,282.3 L680.1,280.2 L681.5,278.2 L682.9,276.1 L684.3,273.9 L685.6,271.8 L686.9,269.6 L688.1,267.4 L689.3,265.1 L690.4,262.9 L691.6,260.6 L692.7,258.2 L693.7,255.9 L694.7,253.5 L695.7,251.1 L696.6,248.7 L697.5,246.3 L698.3,243.8 L699.1,241.3 L699.8,238.8 L700.5,236.3 L701.2,233.7 L701.8,231.2" stroke="#f4ad31"/>
<path d="M150.0,528.4 L152.3,527.2 L154.6,526.1 L156.9,525.1 L159.2,524.0 L161.5,522.9 L163.8,521.8 L166.1,520.7 L168.4,519.7 L170.7,518.6 L173.0,517.6 L175.3,516.5 L177.6,515.5 L179.9,514.5 L182.2,513.4 L184.6,512.4 L186.9,511.4 L189.2,510.4 L191.5,509.4 L193.8,508.4 L196.1,507.4 L198.5,506.4 L200.8,505.4 L203.1,504.4 L205.5,503.5 L207.8,502.5 L210.1,501.5 L212.5,500.6 L214.8,499.6 L217.1,498.7 L219.5,497.7 L221.8,496.8 L224.1,495.9 L226.5,494.9 L228.8,494.0 L231.2,493.1 L233.5,492.2 L235.9,491.3 L238.2,490.4 L240.6,489.5 L242.9,488.6 L245.3,487.7 L247.6,486.8 L250.0,485.9 L252.4,485.0 L254.7,484.1 L257.1,483.2 L259.4,482.4 L261.8,481.5 L264.2,480.6 L266.5,479.8 L268.9,478.9 L271.3,478.1 L273.6,477.2 L276.0,476.4 L278.4,475.5 L280.7,474.7 L283.1,473.9 L285.5,473.0 L287.9,472.2 L290.2,471.4 L292.6,470.5 L295.0,469.7 L297.4,468.9 L299.7,468.1 L302.1,467.2 L304.5,466.4 L306.9,465.6 L309.3,464.8 L311.6,464.0 L314.0,463.2 L316.4,462.4 L318.8,461.6 L321.2,460.8 L323.6,460.0 L325.9,459.2 L328.3,458.4 L330.7,457.6 L333.1,456.8 L335.5,456.0 L337.9,455.3 L340.3,454.5 L342.7,453.7 L345.1,452.9 L347.5,452.1 L349.8,451.3 L352.2,450.6 L354.6,449.8 L357.0,449.0 L359.4,448.2 L361.8,447.5 L364.2,446.7 L366.6,445.9 L369.0,445.1 L371.4,444.4 L373.8,443.6 L376.2,442.8 L378.6,442.1 L381.0,441.3 L383.4,440.5 L385.8,439.7 L388.2,439.0 L390.6,438.2 L392.9,437.4 L395.3,436.7 L397.7,435.9 L400.1,435.1 L402.5,434.4 L404.9,433.6 L407.3,432.8 L409.7,432.0 L412.1,431.3 L414.5,430.5 L416.9,429.7 L419.3,429.0 L421.7,428.2 L424.1,427.4 L426.5,426.6 L428.9,425.9 L431.3,425.1 L433.7,424.3 L436.1,423.5 L438.5,422.7 L440.9,422.0 L443.3,421.2 L445.7,420.4 L448.0,419.6 L450.4,418.8 L452.8,418.0 L455.2,417.2 L457.6,416.4 L460.0,415.6 L462.4,414.8 L464.8,414.0 L467.2,413.2 L469.6,412.4 L471.9,411.6 L474.3,410.8 L476.7,410.0 L479.1,409.2 L481.5,408.4 L483.9,407.6 L486.3,406.8 L488.7,405.9 L491.0,405.1 L493.4,404.3 L495.8,403.5 L498.2,402.6 L500.6,401.8 L502.9,401.0 L505.3,400.1 L507.7,399.3 L510.1,398.4 L512.4,397.6 L514.8,396.7 L517.2,395.9 L519.6,395.0 L521.9,394.1 L524.3,393.3 L526.7,392.4 L529.1,391.5 L531.4,390.6 L533.8,389.8 L536.2,388.9 L538.5,388.0 L540.9,387.1 L543.2,386.2 L545.6,385.3 L548.0,384.4 L550.3,383.5 L552.7,382.5 L555.0,381.6 L557.4,380.7 L559.8,379.8 L562.1,378.8 L564.5,377.9 L566.8,377.0 L569.2,376.0 L571.5,375.1 L573.9,374.1 L576.2,373.1 L578.5,372.2 L580.9,371.2 L583.2,370.2 L585.6,369.2 L587.9,368.2 L590.2,367.2 L592.6,366.2 L594.9,365.2 L597.2,364.2 L599.5,363.2 L601.8,362.2 L604.2,361.1 L606.5,360.1 L608.8,359.0 L611.1,357.9 L613.3,356.8 L615.6,355.8 L617.9,354.7 L620.2,353.5 L622.4,352.4 L624.7,351.3 L626.9,350.1 L629.1,349.0 L631.4,347.8 L633.6,346.6 L635.8,345.4 L638.0,344.2 L640.1,342.9 L642.3,341.7 L644.5,340.4 L646.6,339.1 L648.7,337.8 L650.9,336.5 L653.0,335.2 L655.1,333.8 L657.1,332.4 L659.2,331.0 L661.3,329.6 L663.3,328.2 L665.3,326.8 L667.3,325.3 L669.3,323.8 L671.3,322.3 L673.2,320.8 L675.2,319.2 L677.1,317.6 L679.0,316.0 L680.9,314.4 L682.7,312.8 L684.6,311.1 L686.4,309.4 L688.2,307.7 L690.0,306.0 L691.8,304.2 L693.5,302.4 L695.2,300.6 L696.9,298.7 L698.6,296.9 L700.3,295.0 L701.9,293.1 L703.5,291.1 L705.1,289.1 L706.7,287.1 L708.2,285.1 L709.7,283.0 L711.2,280.9 L712.7,278.8 L714.1,276.6 L715.5,274.4 L716.9,272.2 L718.3,270.0 L719.6,267.7" stroke="#f4ad31"/>
<path d="M150.0,531.8 L152.3,530.8 L154.6,529.8 L156.9,528.7 L159.2,527.7 L161.5,526.7 L163.8,525.7 L166.1,524.7 L168.4,523.7 L170.8,522.7 L173.1,521.7 L175.4,520.7 L177.7,519.8 L180.0,518.8 L182.4,517.8 L184.7,516.9 L187.0,515.9 L189.3,515.0 L191.7,514.0 L194.0,513.1 L196.3,512.1 L198.7,511.2 L201.0,510.3 L203.3,509.3 L205.7,508.4 L208.0,507.5 L210.4,506.6 L212.7,505.7 L215.0,504.8 L217.4,503.9 L219.7,503.0 L222.1,502.1 L224.4,501.2 L226.8,500.4 L229.1,499.5 L231.5,498.6 L233.9,497.8 L236.2,496.9 L238.6,496.0 L240.9,495.2 L243.3,494.3 L245.6,493.5 L248.0,492.6 L250.4,491.8 L252.7,491.0 L255.1,490.1 L257.5,489.3 L259.8,488.5 L262.2,487.7 L264.6,486.8 L266.9,486.0 L269.3,485.2 L271.7,484.4 L274.1,483.6 L276.4,482.8 L278.8,482.0 L281.2,481.2 L283.6,480.4 L286.0,479.6 L288.3,478.8 L290.7,478.0 L293.1,477.2 L295.5,476.5 L297.9,475.7 L300.2,474.9 L302.6,474.1 L305.0,473.4 L307.4,472.6 L309.8,471.8 L312.2,471.1 L314.6,470.3 L317.0,469.5 L319.3,468.8 L321.7,468.0 L324.1,467.3 L326.5,466.5 L328.9,465.8 L331.3,465.0 L333.7,464.3 L336.1,463.5 L338.5,462.8 L340.9,462.0 L343.3,461.3 L345.7,460.6 L348.1,459.8 L350.5,459.1 L352.9,458.4 L355.3,457.6 L357.7,456.9 L360.1,456.2 L362.5,455.4 L364.9,454.7 L367.3,454.0 L369.7,453.2 L372.1,452.5 L374.5,451.8 L376.9,451.1 L379.3,450.3 L381.7,449.6 L384.1,448.9 L386.5,448.2 L388.9,447.5 L391.3,446.7 L393.7,446.0 L396.1,445.3 L398.5,444.6 L400.9,443.8 L403.3,443.1 L405.7,442.4 L408.1,441.7 L410.5,441.0 L412.9,440.2 L415.3,439.5 L417.7,438.8 L420.1,438.1 L422.5,437.4 L425.0,436.6 L427.4,435.9 L429.8,435.2 L432.2,434.5 L434.6,433.8 L437.0,433.0 L439.4,432.3 L441.8,431.6 L444.2,430.9 L446.6,430.1 L449.0,429.4 L451.4,428.7 L453.8,427.9 L456.2,427.2 L458.6,426.5 L461.0,425.7 L463.4,425.0 L465.8,424.3 L468.2,423.5 L470.6,422.8 L473.0,422.1 L475.4,421.3 L477.8,420.6 L480.2,419.8 L482.6,419.1 L485.0,418.3 L487.4,417.6 L489.8,416.9 L492.2,416.1 L494.6,415.3 L497.0,414.6 L499.4,413.8 L501.8,413.1 L504.2,412.3 L506.6,411.5 L508.9,410.8 L511.3,410.0 L513.7,409.2 L516.1,408.5 L518.5,407.7 L520.9,406.9 L523.3,406.1 L525.7,405.3 L528.1,404.6 L530.5,403.8 L532.8,403.0 L535.2,402.2 L537.6,401.4 L540.0,400.6 L542.4,399.8 L544.8,399.0 L547.1,398.2 L549.5,397.4 L551.9,396.5 L554.3,395.7 L556.6,394.9 L559.0,394.1 L561.4,393.2 L563.8,392.4 L566.1,391.5 L568.5,390.7 L570.9,389.8 L573.2,389.0 L575.6,388.1 L577.9,387.3 L580.3,386.4 L582.6,385.5 L585.0,384.6 L587.3,383.7 L589.7,382.8 L592.0,381.9 L594.4,381.0 L596.7,380.1 L599.0,379.2 L601.4,378.2 L603.7,377.3 L606.0,376.3 L608.3,375.4 L610.6,374.4 L612.9,373.4 L615.3,372.5 L617.6,371.5 L619.9,370.5 L622.1,369.5 L624.4,368.5 L626.7,367.4 L629.0,366.4 L631.3,365.3 L633.5,364.3 L635.8,363.2 L638.1,362.2 L640.3,361.1 L642.6,360.0 L644.8,358.9 L647.0,357.8 L649.3,356.6 L651.5,355.5 L653.7,354.3 L655.9,353.2 L658.1,352.0 L660.3,350.8 L662.5,349.6 L664.7,348.4 L666.9,347.2 L669.1,345.9 L671.2,344.7 L673.4,343.4 L675.5,342.1 L677.7,340.8 L679.8,339.5 L681.9,338.2 L684.0,336.8 L686.1,335.5 L688.2,334.1 L690.3,332.7 L692.4,331.3 L694.4,329.9 L696.5,328.4 L698.5,327.0 L700.6,325.5 L702.6,324.0 L704.6,322.5 L706.6,321.0 L708.6,319.4 L710.5,317.9 L712.5,316.3 L714.4,314.7 L716.4,313.1 L718.3,311.4 L720.2,309.7 L722.1,308.1 L724.0,306.4 L725.9,304.6 L727.7,302.9 L729.6,301.1 L731.4,299.3 L733.2,297.5 L735.0,295.7 L736.8,293.8" stroke="#f4ad31"/>
<path d="M690.9,132.3 L691.0,130.3 L691.2,128.3 L691.4,126.2 L691.6,124.2 L691.9,122.2 L692.1,120.1 L692.5,118.1 L692.8,116.0 L693.2,114.0 L693.6,112.0 L694.0,110.0 L694.5,108.0 L695.0,106.0 L695.6,104.1 L696.2,102.1 L696.9,100.2 L697.6,98.3 L698.4,96.4 L699.2,94.6 L700.0,92.8 L700.9,91.0 L701.9,89.2 L702.8,87.5 L703.9,85.8 L705.0,84.2 L706.1,82.6 L707.2,81.1 L708.5,79.6 L709.7,78.1 L711.0,76.7 L712.4,75.3 L713.8,74.0 L715.2,72.8 L716.7,71.6 L718.2,70.4 L719.8,69.3 L721.4,68.2 L723.0,67.2 L724.6,66.1 L726.3,65.2 L728.0,64.3 L729.8,63.4 L731.5,62.5 L733.3,61.7 L735.1,60.9 L737.0,60.1 L738.8,59.3 L740.7,58.6 L742.6,57.9 L744.5,57.2 L746.4,56.6 L748.4,56.0 L750.3,55.3 L752.2,54.8 L754.2,54.2 L756.1,53.6 L758.1,53.1 L760.0,52.5 L762.0,52.0 L764.0,51.5 L765.9,51.0 L767.9,50.5 L769.8,50.0 L771.8,49.5 L773.8,49.1 L775.7,48.6 L777.6,48.2 L779.6,47.7 L781.5,47.3 L783.4,46.9 L785.4,46.5 L787.3,46.2 L789.3,45.8 L791.2,45.4 L793.2,45.1 L795.2,44.7 L797.1,44.4 L799.1,44.1 L801.1,43.8 L803.1,43.4 L805.1,43.1 L807.0,42.9 L809.0,42.6 L811.0,42.3 L813.0,42.0 L815.0,41.8 L816.9,41.5 L818.9,41.3 L820.9,41.1 L822.8,40.8 L824.8,40.6 L826.8,40.4 L828.8,40.2 L830.8,40.0 L832.7,39.8 L834.7,39.7 L836.7,39.5 L838.7,39.3 L840.7,39.1 L842.7,39.0 L844.7,38.8 L846.7,38.7 L848.7,38.6 L850.7,38.4 L852.7,38.3 L854.7,38.2 L856.7,38.0 L858.7,37.9 L860.7,37.8 L862.7,37.7 L864.7,37.6 L866.7,37.5 L868.7,37.4 L870.7,37.3 L872.7,37.3 L874.7,37.2 L876.7,37.1 L878.7,37.0 L880.7,36.9 L882.7,36.9 L884.7,36.8 L886.7,36.7 L888.7,36.7 L890.7,36.6 L892.7,36.6 L894.7,36.5 L896.8,36.5 L898.8,36.4 L900.8,36.4 L902.8,36.3 L904.8,36.3 L906.8,36.2 L908.8,36.2 L910.8,36.1 L912.8,36.1 L914.8,36.0 L916.8,36.0 L918.8,36.0 L920.8,35.9 L922.8,35.9 L924.8,35.8 L926.9,35.8 L928.9,35.7 L930.9,35.7 L932.9,35.7 L934.9,35.6 L936.9,35.6 L938.9,35.5 L940.9,35.5 L942.9,35.4 L944.9,35.4 L946.9,35.3 L948.9,35.2 L950.9,35.2 L952.9,35.1 L955.0,35.0 L957.0,35.0 L959.0,34.9 L961.0,34.8 L963.0,34.8 L965.0,34.7 L967.0,34.6 L969.0,34.5 L971.0,34.4 L973.0,34.3 L975.0,34.2 L976.0,34.2" stroke="#f4ad31"/>
<path d="M695.1,121.1 L695.4,119.1 L695.8,117.1 L696.2,115.0 L696.6,113.0 L697.0,111.0 L697.4,109.0 L697.9,107.0 L698.4,105.0 L698.9,103.1 L699.4,101.1 L700.0,99.2 L700.6,97.4 L701.3,95.5 L702.1,93.7 L702.9,91.9 L703.8,90.1 L704.7,88.4 L705.6,86.7 L706.6,85.0 L707.7,83.4 L708.8,81.8 L710.0,80.3 L711.2,78.8 L712.4,77.4 L713.7,76.0 L715.1,74.7 L716.4,73.4 L717.9,72.2 L719.3,71.0 L720.8,69.8 L722.4,68.7 L723.9,67.7 L725.5,66.6 L727.2,65.7 L728.8,64.7 L730.5,63.8 L732.3,62.9 L734.0,62.1 L735.8,61.3 L737.6,60.5 L739.5,59.7 L741.3,59.0 L743.2,58.3 L745.1,57.6 L747.0,56.9 L748.9,56.3 L750.8,55.7 L752.8,55.0 L754.7,54.5 L756.6,53.9 L758.6,53.3 L760.5,52.8 L762.5,52.2 L764.4,51.7 L766.4,51.2 L768.4,50.7 L770.3,50.2 L772.3,49.7 L774.2,49.3 L776.2,48.8 L778.1,48.4 L780.0,48.0 L781.9,47.5 L783.8,47.1 L785.7,46.7 L787.6,46.3 L789.5,46.0 L791.4,45.6 L793.4,45.2 L795.3,44.9 L797.3,44.6 L799.3,44.2 L801.3,43.9 L803.2,43.6 L805.2,43.3 L807.2,43.0 L809.2,42.7 L811.2,42.4 L813.1,42.2 L815.1,41.9 L817.1,41.7 L819.0,41.4 L821.0,41.2 L822.9,41.0 L824.9,40.7 L826.8,40.5 L828.8,40.3 L830.8,40.1 L832.7,39.9 L834.7,39.7 L836.7,39.6 L838.7,39.4 L840.7,39.2 L842.7,39.1 L844.7,38.9 L846.7,38.8 L848.7,38.6 L850.7,38.5 L852.7,38.4 L854.7,38.2 L856.7,38.1 L858.7,38.0 L860.7,37.9 L862.7,37.8 L864.7,37.7 L866.7,37.6 L868.7,37.5 L870.7,37.4 L872.7,37.3 L874.7,37.2 L876.7,37.1 L878.7,37.1 L880.7,37.0 L882.7,36.9 L884.7,36.8 L886.7,36.8 L888.7,36.7 L890.7,36.7 L892.7,36.6 L894.7,36.5 L896.7,36.5 L898.8,36.4 L900.8,36.4 L902.8,36.3 L904.8,36.3 L906.8,36.2 L908.8,36.2 L910.8,36.2 L912.8,36.1 L914.8,36.1 L916.8,36.0 L918.8,36.0 L920.8,35.9 L922.8,35.9 L924.8,35.9 L926.9,35.8 L928.9,35.8 L930.9,35.7 L932.9,35.7 L934.9,35.6 L936.9,35.6 L938.9,35.5 L940.9,35.5 L942.9,35.4 L944.9,35.4 L946.9,35.3 L948.9,35.3 L950.9,35.2 L952.9,35.1 L955.0,35.1 L957.0,35.0 L959.0,34.9 L961.0,34.9 L963.0,34.8 L965.0,34.7 L967.0,34.6 L969.0,34.5 L971.0,34.5 L973.0,34.4 L975.0,34.3 L977.0,34.2" stroke="#f4ad31"/>
<path d="M699.4,113.0 L699.8,111.0 L700.2,109.0 L700.6,107.0 L701.1,105.0 L701.6,103.1 L702.1,101.1 L702.7,99.2 L703.3,97.4 L703.9,95.5 L704.6,93.7 L705.4,91.9 L706.1,90.1 L707.0,88.4 L707.9,86.7 L708.9,85.0 L709.9,83.4 L710.9,81.8 L712.1,80.3 L713.2,78.8 L714.5,77.4 L715.7,76.0 L717.0,74.7 L718.4,73.4 L719.8,72.2 L721.2,71.0 L722.7,69.8 L724.2,68.7 L725.7,67.7 L727.3,66.6 L728.9,65.7 L730.5,64.7 L732.2,63.8 L733.9,62.9 L735.6,62.1 L737.4,61.3 L739.2,60.5 L741.0,59.7 L742.9,59.0 L744.7,58.3 L746.6,57.6 L748.5,56.9 L750.4,56.3 L752.3,55.7 L754.3,55.0 L756.2,54.5 L758.1,53.9 L760.1,53.3 L762.0,52.8 L764.0,52.2 L765.9,51.7 L767.9,51.2 L769.8,50.7 L771.8,50.2 L773.7,49.7 L775.7,49.3 L777.6,48.8 L779.5,48.4 L781.4,48.0 L783.2,47.5 L785.1,47.1 L786.9,46.7 L788.8,46.3 L790.7,46.0 L792.6,45.6 L794.5,45.2 L796.5,44.9 L798.4,44.6 L800.4,44.2 L802.4,43.9 L804.4,43.6 L806.4,43.3 L808.3,43.0 L810.3,42.7 L812.3,42.4 L814.3,42.2 L816.2,41.9 L818.2,41.7 L820.1,41.4 L822.0,41.2 L824.0,41.0 L825.9,40.7 L827.8,40.5 L829.8,40.3 L831.8,40.1 L833.7,39.9 L835.7,39.7 L837.7,39.6 L839.7,39.4 L841.7,39.2 L843.7,39.1 L845.7,38.9 L847.7,38.8 L849.7,38.6 L851.7,38.5 L853.7,38.4 L855.7,38.2 L857.7,38.1 L859.7,38.0 L861.7,37.9 L863.7,37.8 L865.7,37.7 L867.7,37.6 L869.7,37.5 L871.7,37.4 L873.7,37.3 L875.7,37.2 L877.7,37.1 L879.7,37.1 L881.7,37.0 L883.7,36.9 L885.7,36.8 L887.7,36.8 L889.7,36.7 L891.7,36.7 L893.7,36.6 L895.7,36.5 L897.7,36.5 L899.8,36.4 L901.8,36.4 L903.8,36.3 L905.8,36.3 L907.8,36.2 L909.8,36.2 L911.8,36.2 L913.8,36.1 L915.8,36.1 L917.8,36.0 L919.8,36.0 L921.8,35.9 L923.8,35.9 L925.8,35.9 L927.9,35.8 L929.9,35.8 L931.9,35.7 L933.9,35.7 L935.9,35.6 L937.9,35.6 L939.9,35.5 L941.9,35.5 L943.9,35.4 L945.9,35.4 L947.9,35.3 L949.9,35.3 L951.9,35.2 L953.9,35.1 L956.0,35.1 L958.0,35.0 L960.0,34.9 L962.0,34.9 L964.0,34.8 L966.0,34.7 L968.0,34.6 L970.0,34.5 L972.0,34.5 L974.0,34.4 L976.0,34.3 L978.0,34.2" stroke="#f4ad31"/>
<path d="M703.0,107.0 L703.5,105.0 L704.0,103.1 L704.5,101.1 L705.0,99.2 L705.6,97.4 L706.2,95.5 L706.9,93.7 L707.6,91.9 L708.4,90.1 L709.2,88.4 L710.1,86.7 L711.1,85.0 L712.1,83.4 L713.1,81.8 L714.2,80.3 L715.3,78.8 L716.5,77.4 L717.7,76.0 L719.0,74.7 L720.3,73.4 L721.7,72.2 L723.1,71.0 L724.5,69.8 L726.0,68.7 L727.5,67.7 L729.0,66.6 L730.6,65.7 L732.2,64.7 L733.8,63.8 L735.5,62.9 L737.2,62.1 L739.0,61.3 L740.8,60.5 L742.6,59.7 L744.4,59.0 L746.3,58.3 L748.1,57.6 L750.0,56.9 L751.9,56.3 L753.8,55.7 L755.8,55.0 L757.7,54.5 L759.6,53.9 L761.6,53.3 L763.5,52.8 L765.4,52.2 L767.4,51.7 L769.3,51.2 L771.3,50.7 L773.2,50.2 L775.2,49.7 L777.1,49.3 L779.0,48.8 L780.9,48.4 L782.7,48.0 L784.5,47.5 L786.4,47.1 L788.2,46.7 L790.0,46.3 L791.9,46.0 L793.7,45.6 L795.7,45.2 L797.6,44.9 L799.6,44.6 L801.6,44.2 L803.5,43.9 L805.5,43.6 L807.5,43.3 L809.5,43.0 L811.5,42.7 L813.4,42.4 L815.4,42.2 L817.4,41.9 L819.3,41.7 L821.2,41.4 L823.1,41.2 L825.0,41.0 L826.9,40.7 L828.9,40.5 L830.8,40.3 L832.8,40.1 L834.7,39.9 L836.7,39.7 L838.7,39.6 L840.7,39.4 L842.7,39.2 L844.7,39.1 L846.7,38.9 L848.7,38.8 L850.7,38.6 L852.7,38.5 L854.7,38.4 L856.7,38.2 L858.7,38.1 L860.7,38.0 L862.7,37.9 L864.7,37.8 L866.7,37.7 L868.7,37.6 L870.7,37.5 L872.7,37.4 L874.7,37.3 L876.7,37.2 L878.7,37.1 L880.7,37.1 L882.7,37.0 L884.7,36.9 L886.7,36.8 L888.7,36.8 L890.7,36.7 L892.7,36.7 L894.7,36.6 L896.7,36.5 L898.7,36.5 L900.8,36.4 L902.8,36.4 L904.8,36.3 L906.8,36.3 L908.8,36.2 L910.8,36.2 L912.8,36.2 L914.8,36.1 L916.8,36.1 L918.8,36.0 L920.8,36.0 L922.8,35.9 L924.8,35.9 L926.8,35.9 L928.9,35.8 L930.9,35.8 L932.9,35.7 L934.9,35.7 L936.9,35.6 L938.9,35.6 L940.9,35.5 L942.9,35.5 L944.9,35.4 L946.9,35.4 L948.9,35.3 L950.9,35.3 L952.9,35.2 L954.9,35.1 L957.0,35.1 L959.0,35.0 L961.0,34.9 L963.0,34.9 L965.0,34.8 L967.0,34.7 L969.0,34.6 L971.0,34.5 L973.0,34.5 L975.0,34.4 L977.0,34.3 L979.0,34.2" stroke="#f4ad31"/>
<path d="M720.2,85.8 L721.1,84.2 L722.0,82.6 L723.0,81.1 L724.1,79.6 L725.2,78.1 L726.3,76.7 L727.6,75.3 L728.8,74.0 L730.1,72.8 L731.4,71.6 L732.8,70.4 L734.2,69.3 L735.6,68.2 L737.0,67.2 L738.4,66.1 L739.8,65.2 L741.3,64.3 L742.9,63.4 L744.5,62.5 L746.1,61.7 L747.8,60.9 L749.5,60.1 L751.3,59.3 L753.1,58.6 L754.9,57.9 L756.7,57.2 L758.6,56.6 L760.4,56.0 L762.3,55.3 L764.2,54.8 L766.1,54.2 L768.0,53.6 L769.9,53.1 L771.8,52.5 L773.8,52.0 L775.7,51.5 L777.6,51.0 L779.6,50.5 L781.5,50.0 L783.4,49.5 L785.3,49.1 L787.1,48.6 L788.8,48.2 L790.4,47.7 L792.0,47.3 L793.6,46.9 L795.3,46.5 L796.9,46.2 L798.7,45.8 L800.5,45.4 L802.4,45.1 L804.4,44.7 L806.3,44.4 L808.3,44.1 L810.3,43.8 L812.2,43.4 L814.2,43.1 L816.2,42.9 L818.2,42.6 L820.1,42.3 L822.1,42.0 L824.0,41.8 L825.8,41.5 L827.6,41.3 L829.4,41.1 L831.2,40.8 L833.0,40.6 L834.9,40.4 L836.8,40.2 L838.8,40.0 L840.7,39.8 L842.7,39.7 L844.7,39.5 L846.7,39.3 L848.7,39.1 L850.7,39.0 L852.7,38.8 L854.7,38.7 L856.7,38.6 L858.7,38.4 L860.7,38.3 L862.7,38.2 L864.7,38.0 L866.7,37.9 L868.7,37.8 L870.7,37.7 L872.7,37.6 L874.7,37.5 L876.7,37.4 L878.7,37.3 L880.7,37.3 L882.7,37.2 L884.7,37.1 L886.7,37.0 L888.7,36.9 L890.7,36.9 L892.7,36.8 L894.7,36.7 L896.7,36.7 L898.7,36.6 L900.7,36.6 L902.7,36.5 L904.8,36.5 L906.8,36.4 L908.8,36.4 L910.8,36.3 L912.8,36.3 L914.8,36.2 L916.8,36.2 L918.8,36.1 L920.8,36.1 L922.8,36.0 L924.8,36.0 L926.8,36.0 L928.8,35.9 L930.8,35.9 L932.8,35.8 L934.9,35.8 L936.9,35.7 L938.9,35.7 L940.9,35.7 L942.9,35.6 L944.9,35.6 L946.9,35.5 L948.9,35.5 L950.9,35.4 L952.9,35.4 L954.9,35.3 L956.9,35.2 L958.9,35.2 L960.9,35.1 L963.0,35.0 L965.0,35.0 L967.0,34.9 L969.0,34.8 L971.0,34.8 L973.0,34.7 L975.0,34.6 L977.0,34.5 L979.0,34.4 L981.0,34.3 L983.0,34.2 L984.0,34.2" stroke="#f4ad31"/>
<path d="M736.8,75.3 L737.9,74.0 L739.0,72.8 L740.1,71.6 L741.3,70.4 L742.6,69.3 L743.8,68.2 L745.2,67.2 L746.5,66.1 L747.9,65.2 L749.4,64.3 L750.9,63.4 L752.5,62.5 L754.1,61.7 L755.7,60.9 L757.4,60.1 L759.1,59.3 L760.8,58.6 L762.6,57.9 L764.3,57.2 L766.1,56.6 L768.0,56.0 L769.8,55.3 L771.7,54.8 L773.5,54.2 L775.4,53.6 L777.3,53.1 L779.2,52.5 L781.1,52.0 L783.0,51.5 L785.0,51.0 L786.9,50.5 L788.8,50.0 L790.7,49.5 L792.5,49.1 L794.2,48.6 L795.7,48.2 L797.2,47.7 L798.6,47.3 L800.0,46.9 L801.5,46.5 L803.0,46.2 L804.6,45.8 L806.3,45.4 L808.1,45.1 L810.1,44.7 L812.1,44.4 L814.0,44.1 L816.0,43.8 L818.0,43.4 L819.9,43.1 L821.9,42.9 L823.9,42.6 L825.8,42.3 L827.8,42.0 L829.6,41.8 L831.3,41.5 L833.0,41.3 L834.7,41.1 L836.4,40.8 L838.2,40.6 L840.0,40.4 L841.8,40.2 L843.8,40.0 L845.7,39.8 L847.7,39.7 L849.7,39.5 L851.7,39.3 L853.7,39.1 L855.7,39.0 L857.7,38.8 L859.7,38.7 L861.7,38.6 L863.7,38.4 L865.7,38.3 L867.7,38.2 L869.7,38.0 L871.7,37.9 L873.7,37.8 L875.7,37.7 L877.7,37.6 L879.7,37.5 L881.7,37.4 L883.7,37.3 L885.7,37.3 L887.7,37.2 L889.7,37.1 L891.7,37.0 L893.7,36.9 L895.7,36.9 L897.7,36.8 L899.7,36.7 L901.7,36.7 L903.7,36.6 L905.7,36.6 L907.7,36.5 L909.8,36.5 L911.8,36.4 L913.8,36.4 L915.8,36.3 L917.8,36.3 L919.8,36.2 L921.8,36.2 L923.8,36.1 L925.8,36.1 L927.8,36.0 L929.8,36.0 L931.8,36.0 L933.8,35.9 L935.8,35.9 L937.8,35.8 L939.9,35.8 L941.9,35.7 L943.9,35.7 L945.9,35.7 L947.9,35.6 L949.9,35.6 L951.9,35.5 L953.9,35.5 L955.9,35.4 L957.9,35.4 L959.9,35.3 L961.9,35.2 L963.9,35.2 L965.9,35.1 L968.0,35.0 L970.0,35.0 L972.0,34.9 L974.0,34.8 L976.0,34.8 L978.0,34.7 L980.0,34.6 L982.0,34.5 L984.0,34.4 L986.0,34.3 L988.0,34.2 L989.0,34.2" stroke="#f4ad31"/>
</g>
<rect x="149.75" y="33.3" width="822.05" height="560.8000000000001" fill="none" stroke="#000" stroke-width="2.6"/>
<g class="tl">
<path d="M763 0L583 0L583 1147Q518 1085 412.5 1023Q307 961 223 930L223 1104Q374 1175 487 1276Q600 1377 647 1472L763 1472Z" transform="translate(144.75,627.30) scale(0.01528,-0.01528)" fill="#000"/>
<path d="M763 0L583 0L583 1147Q518 1085 412.5 1023Q307 961 223 930L223 1104Q374 1175 487 1276Q600 1377 647 1472L763 1472Z" transform="translate(234.45,627.30) scale(0.01528,-0.01528)" fill="#000"/>
<text x="251.86" y="627.3">.5</text>
<text x="359.0" y="627.3" text-anchor="middle">2</text>
<text x="461.7" y="627.3" text-anchor="middle">2.5</text>
<text x="564.5" y="627.3" text-anchor="middle">3</text>
<text x="667.2" y="627.3" text-anchor="middle">3.5</text>
<text x="770.0" y="627.3" text-anchor="middle">4</text>
<text x="872.7" y="627.3" text-anchor="middle">4.5</text>
<text x="975.5" y="627.3" text-anchor="middle">5</text>
<text x="136.2" y="604.6" text-anchor="end">0</text>
<text x="136.2" y="492.4" text-anchor="end">0.2</text>
<text x="136.2" y="380.3" text-anchor="end">0.4</text>
<text x="136.2" y="268.1" text-anchor="end">0.6</text>
<text x="136.2" y="156.0" text-anchor="end">0.8</text>
<path d="M763 0L583 0L583 1147Q518 1085 412.5 1023Q307 961 223 930L223 1104Q374 1175 487 1276Q600 1377 647 1472L763 1472Z" transform="translate(118.79,43.80) scale(0.01528,-0.01528)" fill="#000"/>
</g>
<text class="ser" x="211.5" y="132.3" font-size="44.5" font-weight="bold">b<tspan font-weight="normal" stroke="#000" stroke-width="0.5">)</tspan></text>
<text class="ser" transform="translate(56.7,345) rotate(-90)" font-size="70" font-weight="bold" font-style="italic">p<tspan font-size="46" dy="20.9" dx="1">1</tspan></text>
<path d="M192,240 L218,130 L437,130 L437,141 L233,408 C270,403 300,425 335,455 C345,463 356,463 361,455 C346,430 360,398 390,400 C416,402 426,430 416,456 C400,497 350,506 310,486 C270,462 240,440 200,446 L166,458 L154,446 L352,178 L268,178 C236,180 216,200 206,240 Z" transform="translate(515,628) scale(0.1003)" fill="#000"/>
<text class="ser" x="559" y="692.7" font-size="56" font-weight="bold" font-style="italic">2</text>
<text class="ser" x="642.5" y="407" font-size="27.6" font-style="italic" word-spacing="2.5">m [values]</text>
<rect x="639.5" y="420.5" width="281" height="106.5" fill="#fff" stroke="#000" stroke-width="1"/>
<g class="ser" font-size="27" font-style="italic" text-anchor="end" word-spacing="2.1">
<text x="812.5" y="452">[2 − 6]</text>
<text x="811" y="480">m<tspan font-size="20.5" dy="7.5">c</tspan><tspan dy="-7.5"> = 6.60082</tspan></text>
<text x="812.5" y="513">[6.7 − 8]</text>
</g>
<g stroke-width="5.4" fill="none">
<path d="M828.4,443.1H904" stroke="#34688d"/>
<path d="M828.4,473.6H904" stroke="#ff0000"/>
<path d="M828.4,504H904" stroke="#f4ad31"/>
</g>
</svg>
</body></html>
